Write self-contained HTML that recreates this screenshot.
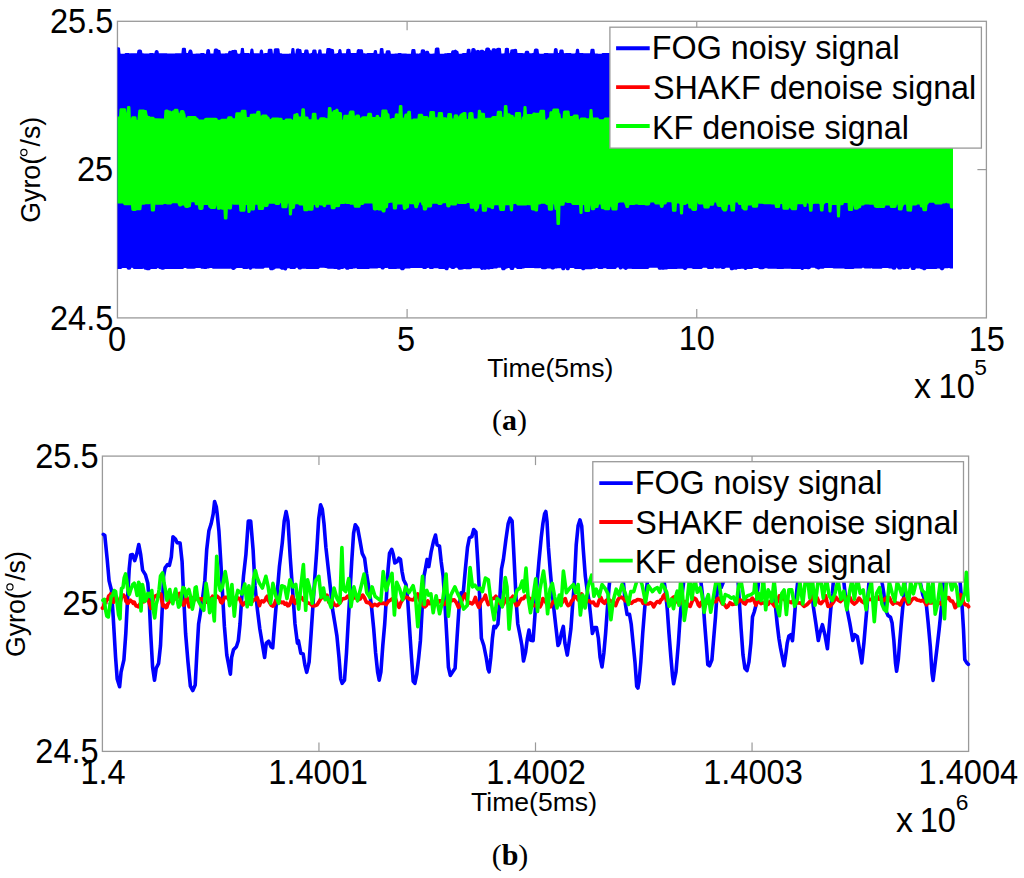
<!DOCTYPE html>
<html><head><meta charset="utf-8"><style>
html,body{margin:0;padding:0;background:#fff;width:1024px;height:878px;overflow:hidden}
svg{display:block}
</style></head><body>
<svg width="1024" height="878" viewBox="0 0 1024 878">
<rect width="1024" height="878" fill="#fff"/>
<rect x="117.45" y="21.30" width="868.95" height="296.60" fill="none" stroke="#9a9a9a" stroke-width="1.3"/>
<line x1="407.10" y1="317.90" x2="407.10" y2="308.90" stroke="#9a9a9a" stroke-width="1.2"/>
<line x1="407.10" y1="21.30" x2="407.10" y2="30.30" stroke="#9a9a9a" stroke-width="1.2"/>
<line x1="696.75" y1="317.90" x2="696.75" y2="308.90" stroke="#9a9a9a" stroke-width="1.2"/>
<line x1="696.75" y1="21.30" x2="696.75" y2="30.30" stroke="#9a9a9a" stroke-width="1.2"/>
<line x1="117.45" y1="169.60" x2="126.45" y2="169.60" stroke="#9a9a9a" stroke-width="1.2"/>
<line x1="986.40" y1="169.60" x2="977.40" y2="169.60" stroke="#9a9a9a" stroke-width="1.2"/>
<path d="M117.5,47.3 L118.5,47.3 L119.0,47.4 L119.5,47.6 L120.0,48.1 L120.5,53.6 L121.0,53.8 L124.0,53.8 L124.5,53.7 L125.0,53.2 L125.5,52.9 L126.0,52.9 L128.4,52.9 L128.9,52.9 L129.4,53.2 L129.9,53.5 L130.4,53.2 L130.9,53.2 L136.9,53.2 L137.4,50.4 L137.9,49.9 L138.4,49.7 L138.9,49.6 L140.4,49.6 L140.9,49.7 L141.4,49.9 L141.9,50.4 L142.4,53.3 L143.4,53.3 L143.9,53.4 L144.4,53.5 L148.9,53.5 L149.4,53.3 L149.9,53.1 L150.4,53.0 L152.4,53.0 L152.9,53.1 L153.4,53.3 L154.4,53.3 L154.9,50.9 L155.4,50.4 L155.9,50.2 L156.4,50.1 L156.9,50.1 L157.4,50.2 L157.9,50.4 L158.4,50.9 L158.9,53.3 L166.4,53.3 L166.9,53.3 L167.4,53.6 L174.4,53.6 L174.9,53.4 L175.4,53.3 L180.4,53.3 L180.9,53.2 L181.4,53.2 L181.9,48.5 L182.4,48.0 L182.9,47.8 L183.4,47.7 L184.4,47.7 L184.9,47.8 L185.4,48.0 L185.9,48.5 L186.4,53.0 L187.9,53.0 L188.4,51.2 L188.9,50.2 L189.4,49.7 L189.9,49.5 L190.4,49.4 L190.9,49.5 L191.4,49.7 L191.9,50.2 L192.4,51.2 L192.9,53.7 L195.4,53.7 L195.9,53.6 L196.4,53.5 L199.9,53.5 L200.4,53.2 L200.9,53.0 L201.4,52.9 L203.4,52.9 L203.9,53.0 L204.4,53.2 L204.9,53.7 L205.9,53.7 L206.4,49.9 L206.9,49.4 L207.4,49.2 L207.9,49.1 L208.4,49.1 L208.9,49.2 L209.4,49.4 L209.9,49.9 L210.4,53.6 L213.4,53.6 L213.9,49.4 L214.4,48.9 L214.9,48.6 L215.4,48.6 L215.9,48.5 L216.4,48.4 L216.9,48.5 L217.4,48.7 L217.9,49.2 L218.4,49.8 L218.9,49.8 L219.4,49.9 L219.9,50.1 L220.4,50.6 L220.9,53.6 L224.4,53.6 L224.9,53.4 L225.4,53.3 L227.9,53.3 L228.4,51.5 L228.9,51.0 L229.4,50.8 L229.9,50.7 L230.4,50.8 L230.9,50.9 L231.4,50.4 L231.9,50.2 L232.4,50.1 L233.4,50.1 L233.9,49.9 L234.4,49.8 L235.4,49.8 L235.9,49.9 L236.4,50.1 L236.9,50.6 L237.4,53.2 L237.9,53.4 L238.4,53.8 L239.4,53.8 L239.9,53.6 L240.4,53.1 L240.9,48.6 L241.4,48.1 L241.9,47.9 L242.4,47.8 L242.9,47.9 L243.4,48.1 L243.9,48.6 L244.4,52.9 L244.9,53.1 L248.9,53.1 L249.4,53.2 L249.9,53.4 L250.4,49.4 L250.9,48.9 L251.4,48.6 L251.9,48.6 L252.4,48.6 L252.9,48.9 L253.4,49.4 L253.9,53.2 L258.4,53.2 L258.9,53.3 L259.4,53.5 L259.9,50.4 L260.4,49.9 L260.9,49.6 L261.4,49.6 L261.9,49.6 L262.4,49.9 L262.9,50.4 L263.4,53.6 L263.9,53.6 L264.4,53.3 L264.9,53.0 L265.4,53.0 L266.9,53.0 L267.4,53.0 L267.9,49.6 L268.4,49.1 L268.9,48.8 L269.4,48.8 L270.9,48.8 L271.4,48.8 L271.9,49.1 L272.4,49.6 L272.9,53.6 L273.4,53.6 L273.9,49.1 L274.4,48.6 L274.9,48.4 L275.4,48.3 L275.9,48.3 L276.4,48.2 L277.9,48.2 L278.4,48.3 L278.9,48.5 L279.4,49.0 L279.9,53.2 L280.9,53.2 L281.4,53.3 L281.9,53.5 L282.4,53.8 L288.4,53.8 L288.9,53.7 L289.4,53.6 L290.9,53.6 L291.4,48.7 L291.9,48.2 L292.4,47.9 L292.9,47.9 L293.4,47.9 L293.9,48.2 L294.4,48.7 L294.9,53.6 L295.4,53.6 L295.9,49.4 L296.4,48.9 L296.9,48.6 L297.4,48.5 L298.4,48.5 L298.9,48.6 L299.4,48.9 L299.9,48.9 L300.4,49.0 L300.9,49.2 L301.4,49.7 L301.9,53.1 L302.4,53.1 L302.9,53.0 L303.4,52.9 L303.9,52.9 L304.4,50.3 L304.9,49.8 L305.4,49.6 L305.9,49.5 L306.9,49.5 L307.4,49.6 L307.9,49.8 L308.4,50.3 L308.9,53.3 L309.4,53.5 L310.4,53.5 L310.9,53.1 L311.4,52.9 L311.9,52.8 L312.4,50.3 L312.9,49.8 L313.4,49.6 L313.9,49.5 L314.9,49.5 L315.4,49.6 L315.9,49.8 L316.4,50.3 L316.9,53.5 L317.9,53.5 L318.4,50.1 L318.9,49.6 L319.4,49.4 L319.9,49.3 L320.4,49.4 L320.9,49.6 L321.4,50.1 L321.9,53.5 L325.9,53.5 L326.4,48.7 L326.9,48.2 L327.4,48.0 L327.9,47.9 L329.4,47.9 L329.9,48.0 L330.4,48.2 L330.9,48.7 L331.4,48.7 L331.9,48.8 L332.4,49.0 L332.9,49.0 L333.4,49.3 L333.9,49.8 L334.4,53.8 L334.9,53.7 L335.4,53.5 L335.9,53.4 L336.4,53.4 L336.9,53.3 L337.4,53.0 L337.9,53.0 L338.4,49.9 L338.9,49.4 L339.4,49.1 L339.9,49.1 L340.4,49.1 L340.9,49.4 L341.4,49.9 L341.9,53.3 L345.9,53.3 L346.4,49.6 L346.9,49.1 L347.4,48.9 L347.9,48.8 L348.9,48.8 L349.4,48.9 L349.9,49.1 L350.4,49.6 L350.9,53.1 L353.9,53.1 L354.4,52.9 L354.9,52.9 L356.4,52.9 L356.9,49.9 L357.4,49.4 L357.9,49.2 L358.4,49.1 L358.9,49.1 L359.4,49.2 L359.9,49.3 L361.4,49.3 L361.9,49.3 L362.4,49.6 L362.9,50.1 L363.4,53.2 L364.4,53.2 L364.9,53.2 L365.4,53.4 L366.4,53.4 L366.9,53.2 L367.4,53.0 L367.9,52.9 L373.4,52.9 L373.9,50.8 L374.4,50.3 L374.9,50.0 L375.4,50.0 L375.9,50.0 L376.4,50.3 L376.9,50.8 L377.4,53.8 L379.4,53.8 L379.9,48.7 L380.4,48.2 L380.9,48.0 L381.4,47.9 L381.9,47.9 L382.4,48.0 L382.9,48.2 L383.4,48.7 L383.9,53.6 L385.4,53.6 L385.9,51.1 L386.4,50.6 L386.9,50.3 L387.4,50.3 L388.9,50.3 L389.4,50.3 L389.9,50.6 L390.4,51.1 L390.9,53.7 L394.4,53.7 L394.9,53.5 L395.4,53.4 L397.4,53.4 L397.9,53.2 L398.4,53.0 L398.9,52.9 L400.4,52.9 L400.9,53.0 L401.4,53.2 L401.9,53.6 L406.4,53.6 L406.9,53.7 L410.9,53.7 L411.4,49.7 L411.9,49.2 L412.4,49.0 L412.9,48.9 L413.9,48.9 L414.4,49.0 L414.9,49.2 L415.4,49.7 L415.9,53.6 L417.4,53.6 L417.9,53.6 L418.4,53.7 L418.9,53.5 L419.4,53.2 L419.9,53.2 L420.4,53.2 L420.9,50.1 L421.4,49.6 L421.9,49.4 L422.4,49.3 L423.4,49.3 L423.9,49.4 L424.4,49.6 L424.9,50.1 L425.4,51.5 L425.9,51.0 L426.4,50.8 L426.9,50.7 L427.4,50.7 L427.9,50.8 L428.4,51.0 L428.9,51.5 L429.4,53.2 L429.9,53.5 L430.4,53.7 L432.4,53.7 L432.9,53.5 L433.4,53.4 L434.4,53.4 L434.9,48.6 L435.4,48.1 L435.9,47.8 L436.4,47.6 L436.9,47.5 L437.9,47.5 L438.4,47.6 L438.9,47.8 L439.4,48.4 L439.9,53.7 L443.9,53.7 L444.4,53.5 L444.9,53.3 L445.4,53.2 L446.9,53.2 L447.4,53.0 L447.9,52.9 L450.9,52.9 L451.4,51.1 L451.9,50.6 L452.4,50.3 L452.9,50.3 L453.9,50.3 L454.4,49.9 L454.9,49.7 L455.4,49.6 L455.9,49.7 L456.4,49.9 L456.9,50.4 L457.4,50.8 L457.9,51.0 L458.4,51.5 L458.9,53.7 L461.4,53.7 L461.9,53.4 L462.4,53.2 L462.9,53.1 L466.4,53.1 L466.9,49.5 L467.4,49.0 L467.9,48.8 L468.4,48.7 L468.9,48.7 L469.4,48.8 L469.9,49.0 L470.4,49.5 L470.9,53.3 L471.4,48.9 L471.9,48.4 L472.4,48.2 L472.9,48.1 L473.9,48.1 L474.4,48.2 L474.9,48.4 L475.4,48.9 L475.9,50.5 L476.4,50.5 L476.9,50.1 L477.4,49.9 L477.9,49.8 L478.4,49.9 L478.9,50.1 L479.4,50.6 L479.9,50.5 L480.4,50.0 L480.9,49.8 L481.4,49.7 L482.4,49.7 L482.9,49.8 L483.4,50.0 L483.9,50.5 L484.4,51.1 L484.9,50.8 L485.4,48.4 L485.9,47.9 L486.4,47.7 L486.9,47.6 L488.4,47.6 L488.9,47.7 L489.4,47.9 L489.9,48.4 L490.4,50.1 L490.9,50.3 L491.4,50.8 L491.9,49.0 L492.4,48.5 L492.9,48.2 L493.4,48.2 L494.4,48.2 L494.9,48.2 L495.4,48.5 L495.9,49.0 L496.4,48.6 L496.9,48.1 L497.4,47.9 L497.9,47.8 L499.4,47.8 L499.9,47.9 L500.4,48.1 L500.9,48.6 L501.4,53.5 L503.4,53.5 L503.9,53.3 L504.4,53.2 L504.9,48.6 L505.4,48.1 L505.9,47.9 L506.4,47.8 L507.4,47.8 L507.9,47.9 L508.4,48.1 L508.9,48.6 L509.4,53.2 L509.9,53.2 L510.4,50.1 L510.9,49.6 L511.4,49.4 L511.9,49.3 L513.5,49.3 L514.0,49.1 L514.5,48.9 L515.0,48.8 L515.5,48.8 L516.0,48.9 L516.5,49.1 L517.0,49.6 L517.5,53.1 L518.0,53.1 L518.5,53.0 L522.0,53.0 L522.5,53.1 L523.0,53.2 L524.5,53.2 L525.0,51.5 L525.5,51.0 L526.0,50.7 L526.5,50.7 L527.5,50.7 L528.0,50.7 L528.5,51.0 L529.0,51.5 L529.5,53.3 L532.0,53.3 L532.5,53.1 L533.0,52.9 L533.5,52.8 L534.0,49.4 L534.5,48.9 L535.0,48.7 L535.5,48.6 L537.0,48.6 L537.5,48.7 L538.0,48.9 L538.5,49.4 L539.0,53.5 L539.5,53.5 L540.0,53.8 L543.5,53.8 L544.0,53.3 L544.5,53.1 L545.0,53.0 L547.5,53.0 L548.0,53.1 L548.5,53.2 L553.5,53.2 L554.0,48.9 L554.5,48.4 L555.0,48.2 L555.5,48.1 L556.0,48.1 L556.5,48.2 L557.0,48.4 L557.5,48.9 L558.0,53.0 L559.0,53.0 L559.5,50.2 L560.0,49.7 L560.5,49.4 L561.0,49.4 L562.0,49.4 L562.5,49.4 L563.0,49.7 L563.5,50.2 L564.0,53.2 L566.5,53.1 L567.0,53.1 L570.5,53.1 L571.0,53.1 L571.5,53.4 L572.0,53.6 L574.0,53.6 L574.5,53.4 L575.0,53.2 L575.5,53.1 L576.0,49.5 L576.5,49.0 L577.0,48.8 L577.5,48.7 L578.0,48.8 L578.5,49.0 L579.0,49.5 L579.5,53.1 L583.0,53.1 L583.5,53.2 L584.0,53.2 L590.0,53.2 L590.5,49.6 L591.0,49.1 L591.5,48.8 L592.0,48.8 L593.0,48.8 L593.5,48.8 L594.0,49.1 L594.5,49.6 L595.0,53.4 L597.0,53.4 L597.5,53.4 L598.0,53.7 L598.5,53.7 L601.5,53.7 L602.0,53.3 L602.5,53.1 L603.0,53.0 L614.5,53.0 L615.0,52.9 L615.5,51.3 L616.0,49.3 L616.5,48.8 L617.0,48.6 L617.5,48.5 L619.0,48.5 L619.5,48.6 L620.0,48.8 L620.5,49.3 L621.0,52.9 L622.0,52.9 L622.5,53.0 L623.0,53.2 L623.5,53.7 L625.5,53.7 L626.0,53.6 L626.5,53.4 L627.0,53.3 L631.5,53.3 L632.0,53.3 L632.5,53.0 L633.0,52.9 L635.0,52.9 L635.5,49.6 L636.0,49.1 L636.5,48.8 L637.0,48.8 L638.0,48.8 L638.5,48.8 L639.0,49.1 L639.5,49.6 L640.0,49.8 L640.5,48.5 L641.0,48.0 L641.5,47.8 L642.0,47.7 L643.0,47.7 L643.5,47.8 L644.0,48.0 L644.5,48.5 L645.0,50.7 L645.5,51.0 L646.0,51.5 L646.5,53.7 L648.0,53.7 L648.5,53.2 L649.0,53.0 L649.5,52.9 L653.0,52.9 L653.5,51.0 L654.0,50.5 L654.5,50.3 L655.0,50.2 L655.5,50.3 L656.0,50.5 L656.5,51.0 L657.0,53.6 L657.5,53.4 L658.0,48.4 L658.5,47.9 L659.0,47.7 L659.5,47.6 L661.0,47.6 L661.5,47.7 L662.0,47.9 L662.5,48.4 L663.0,53.8 L667.0,53.8 L667.5,53.6 L668.0,53.3 L668.5,53.3 L676.0,53.3 L676.5,48.3 L677.0,47.8 L677.5,47.6 L678.0,47.5 L679.0,47.5 L679.5,47.6 L680.0,47.8 L680.5,48.1 L681.0,48.0 L681.5,48.1 L682.0,48.3 L682.5,48.8 L683.0,53.4 L683.5,53.5 L686.0,53.5 L686.5,50.0 L687.0,49.5 L687.5,49.2 L688.0,49.1 L688.5,49.2 L689.0,49.5 L689.5,50.0 L690.0,50.2 L690.5,50.7 L691.0,48.4 L691.5,47.9 L692.0,47.7 L692.5,47.6 L693.5,47.6 L694.0,47.7 L694.5,47.9 L695.0,48.4 L695.5,53.4 L697.5,53.4 L698.0,53.1 L698.5,53.1 L702.5,53.1 L703.0,53.1 L703.5,53.4 L704.0,53.7 L705.5,53.7 L706.0,49.5 L706.5,49.0 L707.0,48.8 L707.5,48.7 L709.0,48.7 L709.5,48.8 L710.0,49.0 L710.5,49.5 L711.0,53.5 L711.5,53.4 L714.0,53.4 L714.5,53.5 L715.0,53.7 L719.0,53.7 L719.5,53.7 L720.0,53.6 L720.5,53.6 L721.0,53.4 L721.5,53.1 L722.0,53.1 L726.0,53.1 L726.5,51.3 L727.0,50.8 L727.5,50.6 L728.0,50.5 L728.5,50.5 L729.0,50.4 L729.5,50.2 L730.0,50.1 L731.0,50.1 L731.5,50.2 L732.0,50.4 L732.5,50.9 L733.0,53.3 L733.5,53.2 L734.0,53.0 L734.5,52.9 L743.5,52.9 L744.0,51.6 L744.5,51.1 L745.0,50.8 L745.5,50.8 L746.0,50.8 L746.5,50.8 L747.0,51.1 L747.5,51.6 L748.0,53.4 L757.0,53.4 L757.5,51.4 L758.0,50.9 L758.5,50.6 L759.0,50.6 L759.5,50.5 L760.0,50.0 L760.5,49.7 L761.0,49.7 L761.5,49.7 L762.0,50.0 L762.5,50.5 L763.0,53.2 L765.0,53.2 L765.5,53.1 L767.0,53.1 L767.5,53.0 L768.0,52.9 L771.0,52.9 L771.5,50.1 L772.0,49.6 L772.5,49.4 L773.0,49.3 L773.5,49.4 L774.0,49.6 L774.5,50.1 L775.0,50.7 L775.5,50.5 L776.0,50.4 L777.0,50.4 L777.5,50.1 L778.0,50.1 L778.5,50.1 L779.0,50.1 L779.5,50.1 L780.0,50.2 L780.5,50.4 L781.0,50.9 L781.5,49.5 L782.0,49.0 L782.5,48.7 L783.0,48.7 L783.5,48.7 L784.0,48.7 L784.5,49.0 L785.0,49.5 L785.5,52.9 L786.5,52.9 L787.0,51.3 L787.5,50.8 L788.0,50.6 L788.5,50.5 L789.0,50.6 L789.5,50.8 L790.0,51.3 L790.5,50.0 L791.0,49.5 L791.5,49.3 L792.0,49.2 L792.5,49.3 L793.0,49.5 L793.5,49.7 L794.0,49.4 L794.5,49.4 L795.0,49.2 L795.5,49.0 L796.0,48.9 L797.0,48.9 L797.5,49.0 L798.0,49.2 L798.5,49.7 L799.0,50.7 L799.5,50.5 L800.0,50.4 L801.5,50.4 L802.0,50.5 L802.5,50.7 L803.0,51.2 L803.5,49.7 L804.0,49.2 L804.5,49.0 L805.0,48.9 L806.0,48.9 L806.5,49.0 L807.0,49.2 L807.5,49.7 L808.0,53.5 L809.0,53.5 L809.5,49.3 L810.0,48.8 L810.5,48.6 L811.0,48.5 L812.0,48.5 L812.5,48.6 L813.0,48.8 L813.5,49.3 L814.0,53.3 L815.5,53.3 L816.0,50.6 L816.5,50.1 L817.0,49.9 L817.5,49.8 L818.0,49.8 L818.5,49.9 L819.0,50.1 L819.5,50.6 L820.0,50.8 L820.5,51.1 L821.0,51.6 L821.5,52.8 L824.5,52.8 L825.0,52.9 L825.5,53.1 L826.0,53.3 L826.5,53.3 L827.0,53.2 L827.5,52.9 L828.0,52.9 L828.5,49.1 L829.0,48.6 L829.5,48.4 L830.0,48.3 L831.0,48.3 L831.5,48.4 L832.0,48.6 L832.5,49.1 L833.0,53.5 L835.0,53.5 L835.5,53.3 L836.0,53.2 L836.5,51.0 L837.0,50.5 L837.5,50.3 L838.0,50.2 L838.5,50.2 L839.0,50.3 L839.5,50.5 L840.0,51.0 L840.5,53.7 L842.5,53.7 L843.0,53.5 L843.5,53.4 L844.5,53.4 L845.0,53.4 L845.5,53.3 L850.0,53.3 L850.5,53.2 L851.0,53.0 L851.5,49.0 L852.0,48.5 L852.5,48.3 L853.0,48.2 L854.0,48.2 L854.5,48.3 L855.0,48.5 L855.5,49.0 L856.0,52.9 L859.0,52.9 L859.5,53.0 L862.5,53.0 L863.0,49.3 L863.5,48.8 L864.0,48.6 L864.5,48.5 L865.0,48.5 L865.5,48.6 L866.0,48.8 L866.5,49.3 L867.0,50.7 L867.5,51.2 L868.0,53.1 L868.5,53.3 L872.0,53.3 L872.5,50.5 L873.0,50.0 L873.5,49.7 L874.0,49.7 L875.0,49.7 L875.5,49.7 L876.0,50.0 L876.5,50.0 L877.0,49.5 L877.5,49.3 L878.0,49.2 L879.0,49.2 L879.5,49.3 L880.0,49.5 L880.5,49.9 L881.0,50.2 L881.5,50.7 L882.0,53.4 L882.5,53.2 L883.0,53.1 L887.5,53.1 L888.0,53.2 L888.5,53.4 L889.0,50.4 L889.5,49.9 L890.0,49.6 L890.5,49.6 L892.0,49.6 L892.5,49.6 L893.0,49.9 L893.5,50.4 L894.0,53.6 L894.5,53.6 L895.0,50.9 L895.5,50.4 L896.0,50.1 L896.5,49.9 L897.0,49.8 L898.0,49.8 L898.5,49.9 L899.0,50.1 L899.5,50.6 L900.0,53.2 L900.5,53.2 L901.0,53.0 L901.5,52.9 L906.5,52.9 L907.0,53.0 L911.0,53.0 L911.5,53.1 L912.0,53.3 L912.5,53.8 L913.0,53.6 L913.5,53.6 L919.0,53.6 L919.5,53.6 L920.5,53.7 L921.0,53.5 L921.5,53.5 L924.5,53.5 L925.0,53.2 L925.5,53.0 L926.0,52.9 L931.0,52.9 L931.5,53.0 L932.0,53.2 L932.5,53.6 L935.5,53.6 L936.0,53.7 L936.5,49.2 L937.0,48.7 L937.5,48.5 L938.0,48.4 L938.5,48.4 L939.0,48.5 L939.5,48.7 L940.0,49.2 L940.5,53.8 L941.0,53.8 L941.5,53.6 L942.0,53.5 L943.5,53.5 L944.0,48.7 L944.5,48.2 L945.0,48.0 L945.5,47.9 L946.0,48.0 L946.5,48.2 L947.0,48.7 L947.5,51.4 L948.0,50.9 L948.5,50.7 L949.0,50.6 L949.5,50.7 L950.0,50.9 L950.5,51.4 L951.0,53.2 L953.0,53.2 L953.0,268.4 L950.5,268.4 L950.0,268.4 L949.5,268.1 L949.0,268.0 L948.5,268.0 L948.0,268.2 L947.5,268.2 L944.5,268.2 L944.0,269.2 L943.5,269.7 L943.0,270.1 L942.5,270.3 L942.0,270.4 L941.5,270.3 L941.0,270.1 L940.5,269.7 L940.0,269.2 L939.5,268.5 L937.5,268.5 L937.0,268.7 L936.5,268.9 L936.0,269.0 L934.0,269.0 L933.5,269.0 L926.5,269.0 L926.0,269.5 L925.5,270.0 L925.0,270.3 L924.5,270.3 L924.0,270.3 L923.5,270.3 L923.0,270.0 L922.5,269.5 L922.0,269.2 L921.5,269.2 L921.0,269.1 L920.5,268.9 L920.0,268.6 L917.0,268.6 L916.5,268.5 L916.0,268.3 L915.5,269.2 L915.0,269.7 L914.5,270.0 L914.0,270.0 L912.5,270.0 L912.0,270.0 L911.5,269.7 L911.0,269.2 L910.5,267.6 L910.0,267.6 L909.5,268.3 L909.0,268.8 L908.5,269.0 L908.0,269.1 L904.0,269.1 L903.5,269.0 L903.0,268.8 L902.5,268.7 L902.0,268.8 L901.5,269.3 L901.0,269.6 L900.5,269.6 L899.0,269.6 L898.5,269.6 L898.0,269.3 L897.5,268.8 L897.0,267.7 L896.5,267.7 L896.0,268.9 L895.5,269.4 L895.0,269.6 L894.5,269.7 L893.5,269.7 L893.0,269.6 L892.5,269.4 L892.0,268.9 L891.5,268.5 L889.5,268.5 L889.0,268.5 L888.5,268.2 L888.0,268.1 L882.5,268.1 L882.0,268.5 L881.5,268.7 L881.0,268.8 L873.0,268.8 L872.5,268.7 L872.0,268.5 L871.5,268.1 L871.0,268.4 L870.5,268.4 L865.0,268.4 L864.5,268.4 L864.0,268.1 L863.5,267.7 L863.0,267.7 L862.5,267.7 L862.0,268.2 L861.5,268.5 L861.0,268.5 L854.5,268.5 L854.0,268.7 L853.5,269.0 L853.0,269.0 L845.5,269.0 L845.0,269.0 L844.5,268.7 L844.0,268.5 L839.0,268.5 L838.5,268.5 L838.0,268.6 L834.0,268.6 L833.5,268.5 L833.0,268.3 L832.5,267.9 L829.0,267.9 L828.5,268.0 L828.0,268.1 L824.5,268.1 L824.0,268.4 L823.5,268.7 L823.0,268.7 L820.5,268.7 L820.0,268.8 L819.5,269.3 L819.0,269.6 L818.5,269.6 L818.0,269.6 L817.5,269.3 L817.0,268.8 L816.5,268.7 L816.0,268.7 L815.5,268.4 L815.0,267.9 L814.5,267.7 L811.0,267.7 L810.5,268.4 L810.0,268.9 L809.5,269.1 L809.0,269.2 L807.5,269.2 L807.0,269.1 L806.5,268.9 L804.5,268.9 L804.0,269.1 L803.5,269.6 L803.0,269.9 L802.5,269.9 L802.0,269.9 L801.5,269.9 L801.0,269.6 L800.5,269.1 L800.0,268.9 L799.5,268.9 L791.5,268.9 L791.0,268.8 L790.5,268.7 L784.5,268.7 L784.0,268.8 L783.5,268.9 L777.0,268.9 L776.5,268.8 L776.0,268.8 L768.5,268.8 L768.0,268.7 L767.5,268.5 L767.0,268.3 L765.0,268.3 L764.5,268.4 L764.0,268.9 L763.5,269.1 L763.0,269.2 L760.0,269.2 L759.5,269.1 L759.0,268.9 L758.5,268.4 L758.0,268.1 L753.5,268.1 L753.0,268.6 L752.5,268.8 L752.0,268.9 L747.5,268.9 L747.0,269.2 L746.5,269.7 L746.0,269.9 L745.5,270.0 L745.0,269.9 L744.5,269.7 L744.0,269.2 L743.5,268.7 L741.0,268.7 L740.5,268.9 L740.0,269.0 L738.5,269.0 L738.0,268.9 L737.5,268.9 L737.0,269.4 L736.5,269.7 L736.0,269.8 L735.5,269.7 L735.0,269.4 L734.5,269.5 L734.0,269.7 L733.5,269.8 L733.0,270.0 L732.5,270.3 L732.0,270.3 L731.5,270.3 L731.0,270.3 L730.5,270.0 L730.0,269.5 L729.5,267.8 L726.0,267.8 L725.5,268.1 L725.0,268.6 L724.5,268.8 L724.0,268.9 L722.0,268.9 L721.5,268.8 L721.0,268.6 L720.5,268.1 L720.0,268.2 L719.5,268.4 L719.0,268.5 L716.5,268.5 L716.0,268.4 L715.5,268.2 L715.0,267.7 L714.5,267.6 L714.0,268.3 L713.5,268.8 L713.0,269.0 L712.5,269.1 L708.5,269.1 L708.0,269.0 L707.5,268.8 L707.0,268.3 L706.5,267.7 L703.0,267.7 L702.5,268.2 L702.0,268.7 L701.5,268.9 L701.0,269.0 L698.0,269.0 L697.5,268.9 L697.0,268.9 L693.0,268.9 L692.5,268.8 L692.0,268.6 L691.5,268.3 L687.5,268.3 L687.0,269.1 L686.5,269.6 L686.0,269.8 L685.5,269.9 L684.5,269.9 L684.0,269.8 L683.5,269.6 L683.0,269.1 L682.5,268.8 L677.5,268.8 L677.0,269.0 L676.5,269.0 L669.0,269.0 L668.5,269.0 L668.0,268.9 L667.5,269.3 L667.0,269.6 L666.5,269.6 L665.5,269.6 L665.0,269.6 L664.5,269.5 L664.0,269.7 L663.5,269.8 L662.5,269.8 L662.0,269.7 L661.5,269.5 L661.0,269.7 L660.5,269.7 L659.5,269.7 L659.0,269.7 L658.5,269.4 L658.0,268.9 L657.5,267.7 L655.0,267.7 L654.5,267.7 L654.0,267.8 L649.5,267.8 L649.0,268.2 L648.5,268.7 L648.0,268.9 L647.5,269.0 L640.0,269.0 L639.5,268.9 L639.0,268.9 L632.0,268.9 L631.5,268.8 L631.0,268.7 L628.0,268.7 L627.5,269.1 L627.0,269.6 L626.5,269.8 L626.0,269.9 L625.5,269.9 L625.0,269.8 L624.5,269.6 L624.0,269.1 L623.5,268.7 L623.0,268.6 L622.5,268.4 L622.0,268.7 L621.5,269.2 L621.0,269.5 L620.5,269.5 L620.0,269.5 L619.5,269.2 L619.0,268.7 L618.5,267.6 L617.0,267.6 L616.5,268.2 L616.0,268.7 L615.5,268.9 L615.0,269.0 L607.5,269.0 L607.0,268.9 L606.5,268.7 L606.0,268.3 L603.5,268.3 L603.0,268.8 L602.5,269.0 L602.0,269.1 L599.0,269.1 L598.5,269.0 L598.0,268.8 L597.5,268.3 L597.0,267.9 L596.5,267.9 L596.0,268.0 L595.5,268.5 L595.0,268.8 L594.5,268.8 L593.0,268.8 L592.5,268.9 L592.0,269.1 L591.5,269.2 L585.5,269.2 L585.0,269.5 L584.5,270.0 L584.0,270.2 L583.5,270.3 L583.0,270.3 L582.5,270.2 L582.0,270.0 L581.5,269.5 L581.0,269.1 L575.5,269.1 L575.0,269.1 L574.5,268.8 L574.0,268.3 L573.5,268.0 L570.0,268.0 L569.5,269.5 L569.0,270.0 L568.5,270.2 L568.0,270.3 L567.5,270.3 L567.0,270.2 L566.5,270.0 L566.0,269.5 L565.5,268.1 L565.0,269.4 L564.5,269.9 L564.0,270.2 L563.5,270.2 L563.0,270.2 L562.5,270.2 L562.0,269.9 L561.5,269.4 L561.0,268.2 L557.5,268.2 L557.0,268.5 L556.5,268.5 L555.5,268.5 L555.0,268.6 L554.5,269.1 L554.0,269.3 L553.5,269.4 L552.0,269.4 L551.5,269.3 L551.0,269.1 L550.5,268.6 L550.0,268.4 L547.0,268.4 L546.5,268.9 L546.0,269.1 L545.5,269.2 L542.5,269.2 L542.0,269.1 L541.5,268.9 L541.0,268.4 L540.5,268.1 L540.0,268.1 L539.5,268.2 L534.5,268.2 L534.0,268.1 L533.5,267.9 L530.5,267.9 L530.0,268.0 L525.0,268.0 L524.5,268.3 L524.0,268.6 L523.5,268.6 L522.5,268.6 L522.0,268.9 L521.5,268.9 L517.5,268.9 L517.0,268.9 L516.5,268.6 L516.0,268.1 L515.5,267.7 L514.5,267.7 L514.0,269.2 L513.5,269.7 L513.0,270.0 L512.5,270.1 L511.4,270.1 L510.9,270.0 L510.4,269.7 L509.9,269.2 L509.4,268.1 L507.9,268.1 L507.4,268.4 L506.9,268.6 L506.4,268.7 L505.9,268.7 L505.4,269.4 L504.9,269.9 L504.4,270.2 L503.9,270.2 L502.9,270.2 L502.4,270.2 L501.9,269.9 L501.4,269.4 L500.9,267.7 L497.9,267.7 L497.4,268.2 L496.9,268.4 L496.4,268.5 L493.9,268.5 L493.4,268.7 L492.9,268.9 L492.4,269.0 L490.4,269.0 L489.9,269.3 L489.4,269.6 L488.9,269.6 L488.4,269.6 L487.9,269.6 L487.4,269.3 L486.9,268.9 L486.4,269.4 L485.9,269.7 L485.4,269.7 L484.4,269.7 L483.9,269.7 L483.4,269.4 L482.9,269.6 L482.4,269.9 L481.9,269.9 L481.4,269.9 L480.9,269.6 L480.4,269.1 L479.9,268.3 L473.4,268.3 L472.9,268.2 L472.4,268.1 L471.9,268.4 L471.4,268.9 L470.9,269.1 L470.4,269.2 L465.9,269.2 L465.4,269.1 L464.9,268.9 L463.9,268.9 L463.4,269.3 L462.9,269.5 L462.4,269.6 L461.9,269.6 L461.4,269.7 L460.9,269.8 L459.4,269.8 L458.9,269.7 L458.4,269.5 L457.9,269.0 L457.4,267.9 L456.9,267.8 L455.9,267.8 L455.4,268.1 L454.9,268.6 L454.4,268.8 L453.9,268.9 L451.9,268.9 L451.4,268.8 L450.9,268.6 L450.4,268.1 L449.9,267.7 L448.9,267.7 L448.4,269.4 L447.9,269.9 L447.4,270.2 L446.9,270.2 L446.4,270.2 L445.9,270.2 L445.4,269.9 L444.9,269.4 L444.4,269.0 L439.4,268.9 L438.9,268.9 L438.4,268.6 L437.9,268.2 L433.9,268.3 L433.4,268.8 L432.9,269.0 L432.4,269.1 L430.4,269.1 L429.9,269.0 L429.4,268.8 L428.9,268.3 L428.4,267.8 L427.9,267.9 L427.4,267.9 L426.9,268.3 L426.4,268.8 L425.9,269.0 L425.4,269.1 L423.9,269.1 L423.4,269.0 L422.9,268.8 L422.4,268.3 L421.9,267.9 L416.9,267.9 L416.4,268.0 L411.4,268.0 L410.9,268.1 L410.4,268.3 L409.9,268.4 L405.9,268.4 L405.4,268.6 L404.9,268.7 L404.4,269.5 L403.9,270.0 L403.4,270.3 L402.9,270.3 L401.9,270.3 L401.4,270.3 L400.9,270.0 L400.4,269.5 L399.9,268.7 L398.4,268.7 L397.9,268.8 L396.9,268.8 L396.4,269.0 L395.9,269.0 L389.4,269.0 L388.9,269.0 L388.4,268.7 L387.9,268.2 L387.4,267.8 L386.9,267.9 L384.9,267.9 L384.4,268.7 L383.9,269.2 L383.4,269.5 L382.9,269.5 L382.4,269.5 L381.9,269.5 L381.4,269.2 L380.9,268.7 L380.4,268.1 L378.4,268.1 L377.9,268.2 L377.4,268.4 L376.9,268.5 L370.4,268.5 L369.9,268.6 L369.4,268.8 L368.9,268.9 L364.9,268.9 L364.4,269.0 L363.9,269.0 L357.9,269.0 L357.4,269.0 L356.9,268.7 L356.4,268.2 L355.9,268.1 L355.4,268.4 L354.9,268.4 L353.4,268.4 L352.9,268.8 L352.4,269.0 L351.9,269.1 L349.4,269.1 L348.9,269.4 L348.4,269.7 L347.9,269.7 L346.9,269.7 L346.4,269.7 L345.9,269.4 L345.4,268.9 L344.9,268.3 L344.4,268.3 L343.9,268.5 L343.4,268.8 L342.9,268.9 L341.4,268.9 L340.9,268.9 L340.4,269.4 L339.9,269.7 L339.4,269.8 L338.4,269.8 L337.9,269.7 L337.4,269.4 L336.9,268.9 L334.4,269.0 L333.9,268.9 L333.4,268.7 L327.9,268.7 L327.4,268.6 L326.9,268.4 L326.4,267.9 L324.9,267.9 L324.4,267.8 L323.9,267.7 L319.9,267.7 L319.4,268.2 L318.9,268.7 L318.4,269.0 L317.9,269.0 L314.9,269.1 L314.4,269.1 L306.9,269.1 L306.4,269.1 L305.9,268.8 L302.4,268.8 L301.9,268.8 L301.4,269.2 L300.9,269.5 L300.4,269.5 L299.4,269.5 L298.9,269.5 L298.4,269.2 L297.9,268.7 L297.4,267.8 L296.4,267.8 L295.9,268.3 L295.4,268.8 L294.9,269.0 L294.4,269.1 L290.9,269.1 L290.4,269.0 L289.9,268.8 L289.4,268.3 L287.4,268.3 L286.9,269.7 L286.4,270.2 L285.9,270.5 L285.4,270.5 L284.9,270.5 L284.4,270.2 L283.9,269.7 L281.9,269.7 L281.4,269.7 L280.9,269.4 L280.4,268.9 L279.9,268.7 L279.4,268.6 L278.9,268.4 L275.9,268.4 L275.4,268.8 L274.9,269.3 L274.4,269.5 L273.9,269.6 L273.4,270.0 L272.9,270.2 L272.4,270.3 L270.9,270.3 L270.4,270.2 L269.9,270.0 L269.4,269.5 L268.9,267.7 L264.9,267.7 L264.4,268.0 L263.9,268.5 L263.4,268.7 L262.9,268.8 L255.9,268.8 L255.4,268.7 L254.9,268.5 L254.4,268.4 L252.4,268.4 L251.9,269.0 L251.4,269.5 L250.9,269.7 L250.4,269.8 L249.9,269.7 L249.4,269.5 L248.9,269.0 L248.4,268.4 L247.9,268.8 L247.4,269.0 L246.9,269.1 L243.9,269.1 L243.4,269.0 L242.9,268.8 L242.4,268.3 L241.9,268.1 L236.9,268.1 L236.4,268.2 L235.9,268.4 L235.4,269.1 L234.9,269.6 L234.4,269.8 L233.9,269.9 L232.9,269.9 L232.4,269.8 L231.9,269.6 L231.4,269.1 L230.9,268.5 L230.4,268.7 L229.9,268.7 L216.4,268.8 L215.9,268.8 L213.4,268.8 L212.9,268.8 L212.4,268.5 L211.9,268.1 L209.9,268.1 L209.4,268.3 L208.9,268.5 L208.4,268.6 L207.4,268.6 L206.9,268.8 L206.4,269.0 L205.9,269.1 L204.4,269.1 L203.9,269.0 L203.4,268.8 L201.9,268.8 L201.4,268.8 L200.9,268.5 L200.4,268.0 L199.9,267.9 L195.9,267.9 L195.4,268.4 L194.9,268.6 L194.4,268.7 L187.4,268.7 L186.9,268.6 L186.4,268.4 L185.9,268.0 L184.4,268.0 L183.9,268.2 L183.4,268.7 L182.9,268.9 L182.4,269.0 L176.4,269.0 L175.9,269.1 L174.4,269.1 L173.9,269.0 L166.4,269.0 L165.9,269.1 L164.9,269.1 L164.4,269.4 L163.9,269.6 L163.4,269.7 L161.9,269.7 L161.4,269.6 L160.9,269.4 L160.4,269.1 L159.9,269.1 L159.4,269.0 L158.9,268.8 L158.4,268.3 L157.9,267.9 L157.4,268.3 L156.9,268.8 L156.4,269.0 L155.9,269.1 L151.4,269.1 L150.9,269.0 L150.4,269.5 L149.9,270.0 L149.4,270.2 L148.9,270.3 L147.4,270.3 L146.9,270.2 L146.4,270.0 L145.9,269.8 L145.4,269.8 L144.9,269.8 L144.4,269.5 L143.9,269.0 L143.4,268.5 L142.9,268.7 L142.4,268.9 L141.9,269.0 L134.4,269.0 L133.9,268.9 L133.4,268.7 L132.9,268.2 L132.4,267.8 L131.4,267.8 L130.9,268.9 L130.4,269.4 L129.9,269.6 L129.4,269.7 L128.4,269.7 L128.0,269.6 L127.5,269.4 L127.0,268.9 L126.5,268.0 L124.0,268.0 L123.5,267.9 L122.5,267.9 L122.0,268.3 L121.5,268.8 L121.0,269.0 L120.5,269.1 L117.5,269.1 Z" fill="#0000ff"/>
<path d="M117.5,116.6 L119.0,116.6 L119.5,109.1 L120.0,108.6 L120.5,108.3 L121.0,108.3 L124.5,108.3 L125.0,108.3 L125.5,108.6 L126.0,109.1 L126.5,113.3 L127.0,106.8 L127.5,106.3 L128.0,106.1 L128.4,106.0 L128.9,106.0 L129.4,106.1 L129.9,106.3 L130.4,106.8 L130.9,119.0 L131.4,117.0 L131.9,116.5 L132.4,116.3 L132.9,116.2 L134.9,116.2 L135.4,116.3 L135.9,116.5 L136.4,117.0 L136.9,120.0 L137.4,120.0 L137.9,114.6 L138.4,110.3 L138.9,109.8 L139.4,109.6 L139.9,109.5 L143.4,109.5 L143.9,109.6 L144.4,109.8 L144.9,109.9 L145.4,109.9 L145.9,109.9 L146.4,110.2 L146.9,110.7 L147.4,114.1 L147.9,115.6 L148.4,116.1 L148.9,116.1 L149.4,116.1 L149.9,116.4 L150.4,116.7 L152.9,116.7 L153.4,116.8 L153.9,117.0 L154.4,117.6 L154.9,118.2 L155.4,118.2 L155.9,118.3 L162.9,118.4 L163.4,118.4 L163.9,118.7 L164.4,110.4 L164.9,109.9 L165.4,109.7 L165.9,109.6 L167.4,109.6 L167.9,109.7 L168.4,109.9 L168.9,110.4 L169.4,110.6 L169.9,110.6 L170.4,110.6 L170.9,110.9 L171.4,111.4 L171.9,110.9 L172.4,110.6 L172.9,110.6 L173.4,110.6 L173.9,109.5 L174.4,109.0 L174.9,108.8 L175.4,108.7 L176.9,108.7 L177.4,108.8 L177.9,109.0 L178.4,109.5 L178.9,113.1 L179.4,113.3 L179.9,110.9 L180.4,110.4 L180.9,110.2 L181.4,110.1 L182.9,110.1 L183.4,110.2 L183.9,110.4 L184.4,110.9 L184.9,113.2 L185.4,113.7 L185.9,117.8 L186.4,117.8 L186.9,116.8 L187.4,116.3 L187.9,116.1 L188.4,116.0 L194.9,116.0 L195.4,116.1 L195.9,116.3 L196.4,116.8 L196.9,117.6 L197.4,117.7 L197.9,117.9 L198.4,118.4 L198.9,119.5 L203.9,119.5 L204.4,118.6 L204.9,118.1 L205.4,117.9 L205.9,117.8 L215.9,117.8 L216.4,117.9 L216.9,118.1 L217.4,118.6 L217.9,119.8 L219.9,119.8 L220.4,119.5 L220.9,119.0 L221.4,118.8 L221.9,118.7 L226.9,118.7 L227.4,117.0 L227.9,116.5 L228.4,116.2 L228.9,116.2 L230.9,116.2 L231.4,116.2 L231.9,116.5 L232.4,117.0 L232.9,118.2 L234.9,118.2 L235.4,113.0 L235.9,112.5 L236.4,112.2 L236.9,112.2 L239.4,112.2 L239.9,112.2 L240.4,112.5 L240.9,110.5 L241.4,110.0 L241.9,109.8 L242.4,109.7 L244.9,109.7 L245.4,109.8 L245.9,110.0 L246.4,110.5 L246.9,117.1 L247.4,117.0 L249.4,117.0 L249.9,114.5 L250.4,114.0 L250.9,113.7 L251.4,113.7 L252.4,113.7 L252.9,113.7 L253.4,113.6 L253.9,113.5 L254.9,113.5 L255.4,113.6 L255.9,113.8 L256.4,111.5 L256.9,111.0 L257.4,110.7 L257.9,110.7 L258.9,110.7 L259.4,110.7 L259.9,111.0 L260.4,111.5 L260.9,116.5 L261.4,115.2 L261.9,114.7 L262.4,114.4 L262.9,114.4 L265.9,114.4 L266.4,114.4 L266.9,114.7 L267.4,115.2 L267.9,116.5 L268.4,116.6 L268.9,116.8 L269.4,117.3 L269.9,118.9 L270.9,118.9 L271.4,118.2 L271.9,117.7 L272.4,117.5 L272.9,117.4 L277.9,117.4 L278.4,117.5 L278.9,117.7 L279.4,117.8 L280.9,117.8 L281.4,117.8 L281.9,118.1 L282.4,118.6 L282.9,120.0 L284.4,120.0 L284.9,119.2 L285.4,118.7 L285.9,118.5 L286.4,118.4 L290.4,118.4 L290.9,118.5 L291.4,118.7 L291.9,119.2 L292.4,119.8 L292.9,119.8 L293.4,114.6 L293.9,114.1 L294.4,113.8 L294.9,113.8 L295.4,113.8 L295.9,113.3 L296.4,113.1 L296.9,113.0 L297.4,113.1 L297.9,113.3 L298.4,113.8 L298.9,116.4 L299.4,116.4 L300.9,116.4 L301.4,109.0 L301.9,108.5 L302.4,108.3 L302.9,108.2 L303.4,108.2 L303.9,108.3 L304.4,108.5 L304.9,109.0 L305.4,116.4 L306.9,116.4 L307.4,116.4 L307.9,116.7 L308.4,117.2 L308.9,119.3 L311.4,119.3 L311.9,113.6 L312.4,113.1 L312.9,112.8 L313.4,112.8 L314.9,112.8 L315.4,112.8 L315.9,113.1 L316.4,113.6 L316.9,119.4 L318.9,119.4 L319.4,118.1 L319.9,117.6 L320.4,117.4 L320.9,117.3 L324.4,117.3 L324.9,117.4 L325.4,117.6 L325.9,118.1 L327.4,118.2 L327.9,107.8 L328.4,107.3 L328.9,107.1 L329.4,107.0 L329.9,107.0 L330.4,107.1 L330.9,107.3 L331.4,107.8 L331.9,111.9 L332.4,111.7 L332.9,110.7 L333.4,110.2 L333.9,110.0 L334.4,109.9 L334.9,109.9 L335.4,109.4 L335.9,108.9 L336.4,108.7 L336.9,108.6 L337.4,108.7 L337.9,108.9 L338.4,109.4 L338.9,112.1 L340.4,112.1 L340.9,112.1 L341.4,112.4 L341.9,112.9 L342.4,119.7 L342.9,119.7 L343.4,115.5 L343.9,115.0 L344.4,114.8 L344.9,114.7 L347.9,114.7 L348.4,114.8 L348.9,111.7 L349.4,111.2 L349.9,110.8 L350.4,110.6 L350.9,110.5 L352.9,110.5 L353.4,110.6 L353.9,110.8 L354.4,111.3 L354.9,116.0 L355.4,115.4 L355.9,114.9 L356.4,114.6 L356.9,114.6 L358.4,114.6 L358.9,114.6 L359.4,114.9 L359.9,115.4 L360.4,118.0 L360.9,118.0 L361.4,117.1 L361.9,116.6 L362.4,116.4 L362.9,116.3 L366.9,116.3 L367.4,113.5 L367.9,113.0 L368.4,112.8 L368.9,112.7 L370.4,112.7 L370.9,112.8 L371.4,113.0 L371.9,113.5 L372.4,116.9 L372.9,116.9 L373.4,117.1 L375.4,117.1 L375.9,115.6 L376.4,115.1 L376.9,114.9 L377.4,114.8 L377.9,114.9 L378.4,115.1 L378.9,115.6 L379.4,117.1 L379.9,117.1 L380.4,117.3 L380.9,117.3 L381.4,110.2 L381.9,109.7 L382.4,109.5 L382.9,109.4 L385.9,109.4 L386.4,109.5 L386.9,109.7 L387.4,110.2 L387.9,113.2 L388.4,113.3 L388.9,113.5 L389.4,114.0 L389.9,118.8 L390.9,118.8 L391.4,118.4 L391.9,118.1 L392.4,118.1 L394.4,118.1 L394.9,114.1 L395.4,113.6 L395.9,113.4 L396.4,113.3 L396.9,113.3 L397.4,113.4 L397.9,113.6 L398.4,114.1 L398.9,105.8 L399.4,105.3 L399.9,105.1 L400.4,105.0 L400.9,105.0 L401.4,105.1 L401.9,105.3 L402.4,105.8 L402.9,118.1 L403.4,117.8 L403.9,117.3 L404.4,114.4 L404.9,113.9 L405.4,113.6 L405.9,113.6 L406.9,113.6 L407.4,111.5 L407.9,111.0 L408.4,110.8 L408.9,110.7 L409.4,110.7 L409.9,110.8 L410.4,111.0 L410.9,111.5 L411.4,119.3 L411.9,119.3 L412.4,119.2 L412.9,118.7 L413.4,118.5 L413.9,118.4 L417.4,118.4 L417.9,114.5 L418.4,114.0 L418.9,113.8 L419.4,113.7 L421.4,113.7 L421.9,113.8 L422.4,114.0 L422.9,114.5 L423.4,116.1 L426.9,116.1 L427.4,116.1 L427.9,116.4 L428.4,116.9 L428.9,117.9 L429.4,111.8 L429.9,111.3 L430.4,111.1 L430.9,111.0 L433.4,111.0 L433.9,111.1 L434.4,111.3 L434.9,111.8 L435.4,117.2 L437.4,117.2 L437.9,112.8 L438.4,112.3 L438.9,112.0 L439.4,112.0 L441.4,112.0 L441.9,112.0 L442.4,112.3 L442.9,112.8 L443.4,117.2 L445.4,117.2 L445.9,117.2 L446.4,117.5 L446.9,118.0 L447.4,113.8 L447.9,113.3 L448.4,113.1 L448.9,113.0 L450.4,113.0 L450.9,113.1 L451.4,113.3 L451.9,113.8 L452.4,118.6 L452.9,118.6 L453.4,118.6 L453.9,115.1 L454.4,114.6 L454.9,114.4 L455.4,114.3 L456.4,114.3 L456.9,114.4 L457.4,114.6 L457.9,115.1 L458.4,116.4 L458.9,116.4 L459.4,115.0 L459.9,114.5 L460.4,113.9 L460.9,113.4 L461.4,113.2 L461.9,113.1 L462.4,112.8 L462.9,112.3 L463.4,112.1 L463.9,112.0 L464.9,112.0 L465.4,112.1 L465.9,112.3 L466.4,112.8 L466.9,119.0 L467.9,119.0 L468.4,112.9 L468.9,112.4 L469.4,112.2 L469.9,112.1 L471.9,112.1 L472.4,112.2 L472.9,112.4 L473.4,112.9 L473.9,118.6 L476.9,118.6 L477.4,118.6 L477.9,110.5 L478.4,110.0 L478.9,109.8 L479.4,109.7 L479.9,109.8 L480.4,110.0 L480.9,110.5 L481.4,112.8 L483.4,112.8 L483.9,112.9 L484.4,113.1 L484.9,113.6 L485.4,118.3 L485.9,118.0 L486.4,117.7 L486.9,117.7 L490.9,117.7 L491.4,116.9 L491.9,116.4 L492.4,116.2 L492.9,116.1 L496.4,116.1 L496.9,111.5 L497.4,111.0 L497.9,110.7 L498.4,110.7 L500.4,110.7 L500.9,110.7 L501.4,111.0 L501.9,111.5 L502.4,117.1 L502.9,117.0 L503.4,117.0 L503.9,105.8 L504.4,105.3 L504.9,105.1 L505.4,105.0 L505.9,105.0 L506.4,105.1 L506.9,105.3 L507.4,105.8 L507.9,113.2 L508.9,113.2 L509.4,113.3 L509.9,113.5 L510.4,114.0 L510.9,114.8 L511.9,114.8 L512.5,114.9 L513.0,115.1 L513.5,115.6 L514.0,117.0 L514.5,117.2 L515.0,112.8 L515.5,112.3 L516.0,112.1 L516.5,112.0 L519.5,112.0 L520.0,112.1 L520.5,112.3 L521.0,112.8 L521.5,119.9 L522.0,117.1 L522.5,116.6 L523.0,116.4 L523.5,106.8 L524.0,106.3 L524.5,106.1 L525.0,106.0 L525.5,106.1 L526.0,106.3 L526.5,106.8 L527.0,114.2 L527.5,114.0 L528.0,113.9 L531.0,113.9 L531.5,114.0 L532.0,114.2 L532.5,113.3 L533.0,112.8 L533.5,112.6 L534.0,112.5 L534.5,112.5 L535.0,112.6 L535.5,112.8 L536.0,113.0 L536.5,112.7 L537.0,112.7 L539.0,112.7 L539.5,110.5 L540.0,110.0 L540.5,109.8 L541.0,109.7 L543.5,109.7 L544.0,109.8 L544.5,110.0 L545.0,110.5 L545.5,119.6 L547.0,119.6 L547.5,118.2 L548.0,117.7 L548.5,117.5 L549.0,117.4 L549.5,112.0 L550.0,111.5 L550.5,111.3 L551.0,111.2 L552.0,111.2 L552.5,109.2 L553.0,108.7 L553.5,108.5 L554.0,108.4 L557.5,108.4 L558.0,108.5 L558.5,108.7 L559.0,109.2 L559.5,113.1 L560.0,113.4 L560.5,113.9 L561.0,118.3 L562.5,118.3 L563.0,111.5 L563.5,110.9 L564.0,110.7 L564.5,110.6 L565.0,110.6 L565.5,110.4 L566.0,110.4 L568.0,110.4 L568.5,110.4 L569.0,110.7 L569.5,111.2 L570.0,116.0 L572.5,116.0 L573.0,115.3 L573.5,114.8 L574.0,114.6 L574.5,114.5 L577.0,114.5 L577.5,114.6 L578.0,114.8 L578.5,115.3 L579.0,119.5 L579.5,119.5 L580.0,118.3 L580.5,117.8 L581.0,117.6 L581.5,117.5 L585.0,117.5 L585.5,117.6 L586.0,117.8 L586.5,118.3 L589.0,118.3 L589.5,109.8 L590.0,109.3 L590.5,109.1 L591.0,109.0 L591.5,109.1 L592.0,109.3 L592.5,109.8 L593.0,117.6 L593.5,117.6 L597.5,117.6 L598.0,117.6 L598.5,117.9 L599.0,118.4 L599.5,119.2 L603.5,119.2 L604.0,118.3 L604.5,117.8 L605.0,117.6 L605.5,117.5 L611.0,117.5 L611.5,117.6 L612.0,117.8 L612.5,118.3 L613.0,118.6 L614.5,118.6 L615.0,117.5 L615.5,117.0 L616.0,116.8 L616.5,114.8 L617.0,114.3 L617.5,114.0 L618.0,114.0 L619.0,114.0 L619.5,109.8 L620.0,109.3 L620.5,109.1 L621.0,109.0 L624.0,109.0 L624.5,109.1 L625.0,109.3 L625.5,109.8 L626.0,110.9 L626.5,111.0 L627.0,109.6 L627.5,109.1 L628.0,108.8 L628.5,108.8 L629.0,108.8 L629.5,108.8 L630.0,109.1 L630.5,109.6 L631.0,111.3 L631.5,111.8 L632.0,118.6 L632.5,118.6 L633.0,111.5 L633.5,111.0 L634.0,110.7 L634.5,110.7 L635.0,110.7 L635.5,110.7 L636.0,111.0 L636.5,111.5 L637.0,117.0 L640.0,117.0 L640.5,116.8 L641.0,116.7 L648.0,116.7 L648.5,116.8 L649.0,117.0 L649.5,117.5 L650.0,117.9 L651.5,117.9 L652.0,117.6 L652.5,111.3 L653.0,110.8 L653.5,110.5 L654.0,110.5 L656.0,110.5 L656.5,110.4 L657.0,110.3 L660.0,110.3 L660.5,110.4 L661.0,110.6 L661.5,111.1 L662.0,116.8 L664.5,116.7 L665.0,116.5 L665.5,116.4 L668.5,116.4 L669.0,109.7 L669.5,109.2 L670.0,109.0 L670.5,108.9 L672.0,108.9 L672.5,109.0 L673.0,109.2 L673.5,109.7 L674.0,116.5 L674.5,116.7 L675.0,117.2 L675.5,119.5 L676.0,117.6 L676.5,117.1 L677.0,116.9 L677.5,116.8 L678.5,116.8 L679.0,114.7 L679.5,114.2 L680.0,114.0 L680.5,113.9 L682.0,113.9 L682.5,114.0 L683.0,114.2 L683.5,114.7 L684.0,116.8 L684.5,116.3 L685.0,116.1 L685.5,116.0 L691.0,116.0 L691.5,116.1 L692.0,116.3 L692.5,116.7 L693.5,116.7 L694.0,116.8 L694.5,117.0 L695.0,117.4 L695.5,113.4 L696.0,112.9 L696.5,112.7 L697.0,112.6 L698.0,112.6 L698.5,112.7 L699.0,112.8 L699.5,112.6 L700.0,112.5 L701.5,112.5 L702.0,112.6 L702.5,112.8 L703.0,113.3 L703.5,118.5 L704.5,118.5 L705.0,118.5 L705.5,118.8 L706.0,119.3 L706.5,119.4 L709.5,119.4 L710.0,119.4 L710.5,119.6 L713.0,119.6 L713.5,118.6 L714.0,114.6 L714.5,114.1 L715.0,113.9 L715.5,113.8 L718.0,113.8 L718.5,113.9 L719.0,114.1 L719.5,114.6 L720.0,117.9 L720.5,118.0 L724.0,118.0 L724.5,117.9 L726.0,117.9 L726.5,112.6 L727.0,110.8 L727.5,110.2 L728.0,110.0 L728.5,109.9 L729.0,109.7 L729.5,109.7 L730.5,109.7 L731.0,109.7 L731.5,110.0 L732.0,110.2 L732.5,110.8 L733.0,110.3 L733.5,109.8 L734.0,109.6 L734.5,109.5 L737.5,109.5 L738.0,109.6 L738.5,109.8 L739.0,110.3 L739.5,117.2 L741.5,117.2 L742.0,110.6 L742.5,110.1 L743.0,109.9 L743.5,109.8 L744.0,109.8 L744.5,109.6 L745.0,109.5 L745.5,109.6 L746.0,109.8 L746.5,110.3 L747.0,119.2 L749.0,119.2 L749.5,119.1 L750.0,119.0 L751.5,119.0 L752.0,117.8 L752.5,117.3 L753.0,117.1 L753.5,117.0 L754.5,117.0 L755.0,109.8 L755.5,109.3 L756.0,109.1 L756.5,109.0 L757.0,109.1 L757.5,109.3 L758.0,109.8 L758.5,110.2 L759.0,110.2 L759.5,110.3 L760.0,110.6 L760.5,111.1 L761.0,114.0 L761.5,113.5 L762.0,113.3 L762.5,113.2 L763.0,111.4 L763.5,110.9 L764.0,110.6 L764.5,110.6 L767.5,110.6 L768.0,110.6 L768.5,110.9 L769.0,111.4 L769.5,117.1 L772.5,117.1 L773.0,116.9 L773.5,116.6 L774.0,116.6 L779.0,116.6 L779.5,116.6 L780.0,116.9 L780.5,112.4 L781.0,111.9 L781.5,111.6 L782.0,111.6 L784.0,111.6 L784.5,111.6 L785.0,111.9 L785.5,112.4 L786.0,112.9 L786.5,112.7 L787.0,112.6 L790.0,112.6 L790.5,112.7 L791.0,111.1 L791.5,110.6 L792.0,110.4 L792.5,110.3 L794.5,110.3 L795.0,110.4 L795.5,110.6 L796.0,111.1 L796.5,114.6 L797.0,114.3 L797.5,114.3 L798.0,114.3 L798.5,111.0 L799.0,110.5 L799.5,110.3 L800.0,110.2 L802.5,110.2 L803.0,110.3 L803.5,110.5 L804.0,111.0 L804.5,116.7 L805.0,116.5 L805.5,116.4 L811.5,116.4 L812.0,116.5 L812.5,116.7 L813.0,117.2 L813.5,119.5 L815.0,119.5 L815.5,119.1 L816.0,118.9 L816.5,118.8 L817.0,118.8 L817.5,115.8 L818.0,115.3 L818.5,115.0 L819.0,114.9 L821.5,114.9 L822.0,115.0 L822.5,115.3 L823.0,115.8 L823.5,116.8 L825.5,116.8 L826.0,109.9 L826.5,109.4 L827.0,109.1 L827.5,109.1 L828.5,109.1 L829.0,109.0 L829.5,108.5 L830.0,108.3 L830.5,108.2 L831.5,108.2 L832.0,108.3 L832.5,108.5 L833.0,108.6 L833.5,108.6 L834.0,108.6 L834.5,108.9 L835.0,109.4 L835.5,119.3 L837.0,119.3 L837.5,119.3 L838.0,118.8 L838.5,118.5 L839.0,112.2 L839.5,111.7 L840.0,111.4 L840.5,111.4 L841.5,111.4 L842.0,110.8 L842.5,110.3 L843.0,110.0 L843.5,110.0 L845.5,110.0 L846.0,110.0 L846.5,110.3 L847.0,110.8 L847.5,118.3 L848.0,118.3 L848.5,117.4 L849.0,113.0 L849.5,112.5 L850.0,109.3 L850.5,108.8 L851.0,108.6 L851.5,108.5 L852.0,108.6 L852.5,108.8 L853.0,109.3 L853.5,113.0 L854.0,116.6 L854.5,116.6 L855.0,116.7 L855.5,116.9 L856.0,117.4 L856.5,111.1 L857.0,110.6 L857.5,110.4 L858.0,110.3 L861.0,110.3 L861.5,110.4 L862.0,110.6 L862.5,111.1 L863.0,117.9 L865.5,117.9 L866.0,111.3 L866.5,110.8 L867.0,110.5 L867.5,110.5 L868.5,110.5 L869.0,110.5 L869.5,110.8 L870.0,111.3 L870.5,119.4 L871.0,117.3 L871.5,116.8 L872.0,116.6 L872.5,116.5 L873.5,116.5 L874.0,111.8 L874.5,111.3 L875.0,111.0 L875.5,111.0 L878.0,111.0 L878.5,111.0 L879.0,111.3 L879.5,111.8 L880.0,116.6 L880.5,112.6 L881.0,112.1 L881.5,111.9 L882.0,109.2 L882.5,108.7 L883.0,108.4 L883.5,108.4 L885.5,108.4 L886.0,108.4 L886.5,108.7 L887.0,109.2 L887.5,119.5 L892.0,119.5 L892.5,118.3 L893.0,117.8 L893.5,117.6 L894.0,117.5 L897.0,117.5 L897.5,112.3 L898.0,111.8 L898.5,111.5 L899.0,111.5 L900.0,111.5 L900.5,111.5 L901.0,111.8 L901.5,112.3 L902.0,112.4 L902.5,111.5 L903.0,111.0 L903.5,110.8 L904.0,110.7 L907.5,110.7 L908.0,110.8 L908.5,111.0 L909.0,111.5 L909.5,117.7 L910.0,117.2 L910.5,117.0 L911.0,116.9 L915.5,116.9 L916.0,117.0 L916.5,117.2 L917.0,117.7 L917.5,119.5 L920.0,119.5 L920.5,118.0 L921.0,117.5 L921.5,117.3 L922.0,117.2 L926.5,117.2 L927.0,117.3 L927.5,117.5 L928.0,118.0 L928.5,118.5 L931.0,118.5 L931.5,118.4 L932.0,118.2 L932.5,118.1 L935.0,118.1 L935.5,117.1 L936.0,116.6 L936.5,116.4 L937.0,116.3 L939.0,116.3 L939.5,116.4 L940.0,116.6 L940.5,113.6 L941.0,113.1 L941.5,112.8 L942.0,112.8 L942.5,112.8 L943.0,113.1 L943.5,113.6 L944.0,116.5 L946.0,116.5 L946.5,116.6 L947.0,116.8 L947.5,117.3 L948.0,119.0 L951.0,119.0 L951.5,117.3 L952.0,116.8 L952.5,116.6 L953.0,116.5 L953.0,208.4 L951.5,208.4 L951.0,208.3 L950.5,208.1 L950.0,207.6 L949.5,203.6 L948.0,203.6 L947.5,203.6 L947.0,203.3 L946.5,202.8 L946.0,202.7 L945.5,203.2 L945.0,203.4 L944.5,203.5 L943.0,203.5 L942.5,203.8 L942.0,204.3 L941.5,204.5 L941.0,204.6 L936.0,204.6 L935.5,204.5 L935.0,204.3 L934.5,203.8 L934.0,202.8 L929.0,202.8 L928.5,204.0 L928.0,204.5 L927.5,204.8 L927.0,210.5 L926.5,211.0 L926.0,211.2 L925.5,211.3 L924.0,211.3 L923.5,211.2 L923.0,211.0 L922.5,210.5 L922.0,207.5 L921.5,207.5 L921.0,207.5 L920.5,207.2 L920.0,206.7 L919.5,204.5 L917.5,204.5 L917.0,204.8 L916.5,205.3 L916.0,205.5 L915.5,205.6 L912.5,205.6 L912.0,210.9 L911.5,211.4 L911.0,211.6 L910.5,211.7 L910.0,211.7 L909.5,211.6 L909.0,211.6 L908.0,211.6 L907.5,211.5 L907.0,211.3 L906.5,210.8 L906.0,204.5 L905.5,204.7 L905.0,204.8 L904.0,204.8 L903.5,206.2 L903.0,206.7 L902.5,209.8 L902.0,210.3 L901.5,210.5 L901.0,210.6 L899.5,210.6 L899.0,210.5 L898.5,210.3 L898.0,209.8 L897.5,204.7 L897.0,204.5 L896.5,207.1 L896.0,207.6 L895.5,207.8 L895.0,207.9 L894.5,207.9 L894.0,208.0 L891.5,208.0 L891.0,207.9 L890.5,207.7 L890.0,207.2 L889.5,205.5 L885.5,205.5 L885.0,207.2 L884.5,207.7 L884.0,208.0 L883.5,208.0 L880.5,208.0 L880.0,208.0 L879.5,207.8 L879.0,207.9 L876.0,207.9 L875.5,207.8 L875.0,207.6 L874.5,207.2 L874.0,206.7 L873.5,204.7 L872.5,204.7 L872.0,204.7 L871.5,204.8 L870.0,204.8 L869.5,204.7 L869.0,204.5 L868.5,204.4 L865.0,204.4 L864.5,204.8 L864.0,205.3 L863.5,205.5 L863.0,205.6 L861.5,205.6 L861.0,207.4 L860.5,208.0 L860.0,208.2 L859.5,208.3 L859.0,208.3 L858.5,208.9 L858.0,209.4 L857.5,209.6 L857.0,209.7 L855.5,209.7 L855.0,209.6 L854.5,209.4 L854.0,208.9 L853.5,204.9 L853.0,210.2 L852.5,210.7 L852.0,210.9 L851.5,211.0 L849.5,211.0 L849.0,210.9 L848.5,210.7 L848.0,210.2 L847.5,203.1 L844.0,203.1 L843.5,204.5 L843.0,205.0 L842.5,205.2 L842.0,205.3 L840.5,205.3 L840.0,216.7 L839.5,217.2 L839.0,217.4 L838.5,217.5 L838.0,217.4 L837.5,217.2 L837.0,216.7 L836.5,205.0 L832.0,205.0 L831.5,211.7 L831.0,212.2 L830.5,212.4 L830.0,212.5 L829.5,212.4 L829.0,212.2 L828.5,211.7 L828.0,202.9 L825.5,202.9 L825.0,203.7 L824.5,204.2 L824.0,204.4 L823.5,210.8 L823.0,211.3 L822.5,211.5 L822.0,211.6 L821.5,211.6 L821.0,211.5 L820.5,211.3 L820.0,210.8 L819.5,204.2 L819.0,203.7 L814.5,203.7 L814.0,204.0 L813.5,204.0 L813.0,204.0 L812.5,210.9 L812.0,211.4 L811.5,211.6 L811.0,211.7 L810.5,211.7 L810.0,211.6 L809.5,211.4 L809.0,210.9 L808.5,204.0 L808.0,203.7 L807.5,203.2 L807.0,203.1 L806.5,206.2 L806.0,206.7 L805.5,207.0 L805.0,207.0 L804.5,207.0 L804.0,206.7 L803.5,206.2 L803.0,204.2 L797.5,204.2 L797.0,209.5 L796.5,210.0 L796.0,210.2 L795.5,210.3 L792.5,210.3 L792.0,210.2 L791.5,210.0 L791.0,209.5 L790.5,208.8 L790.0,208.3 L789.5,207.4 L789.0,209.0 L788.5,209.5 L788.0,209.7 L787.5,209.8 L784.0,209.8 L783.5,209.7 L783.0,209.5 L782.5,209.0 L782.0,204.0 L780.5,204.0 L780.0,207.3 L779.5,207.8 L779.0,208.0 L778.5,208.1 L776.5,208.1 L776.0,208.0 L775.5,207.8 L775.0,207.3 L774.5,204.5 L772.0,204.5 L771.5,204.4 L771.0,204.2 L764.0,204.2 L763.5,204.1 L763.0,203.9 L762.5,203.7 L759.5,203.7 L759.0,203.6 L758.5,203.5 L758.0,206.9 L757.5,207.4 L757.0,207.6 L756.5,207.7 L753.5,207.7 L753.0,207.6 L752.5,207.4 L752.0,206.9 L751.5,205.1 L751.0,205.4 L750.5,205.4 L748.0,205.4 L747.5,209.8 L747.0,210.3 L746.5,210.5 L746.0,210.6 L744.5,210.6 L744.0,210.5 L743.5,210.3 L743.0,209.8 L742.5,209.3 L742.0,209.1 L741.5,208.6 L741.0,204.9 L739.5,204.9 L739.0,204.9 L738.5,204.6 L738.0,204.1 L737.5,202.6 L735.5,202.6 L735.0,210.7 L734.5,211.2 L734.0,211.4 L733.5,211.5 L732.0,211.5 L731.5,211.4 L731.0,211.2 L730.5,210.7 L730.0,204.8 L728.5,204.8 L728.0,204.8 L727.5,209.3 L727.0,210.6 L726.5,211.1 L726.0,211.4 L725.5,211.4 L724.0,211.4 L723.5,211.4 L723.0,211.1 L722.5,210.6 L722.0,209.8 L721.5,209.3 L721.0,206.8 L720.5,206.9 L718.5,206.9 L718.0,206.8 L717.5,206.6 L717.0,206.1 L716.5,204.4 L716.0,202.4 L714.5,202.4 L714.0,205.0 L713.5,205.5 L713.0,205.7 L712.5,205.8 L710.0,205.8 L709.5,207.8 L709.0,208.3 L708.5,208.5 L708.0,208.6 L705.0,208.6 L704.5,208.5 L704.0,208.3 L703.5,207.8 L703.0,204.6 L699.5,204.6 L699.0,204.5 L698.5,204.3 L698.0,203.8 L697.5,202.3 L697.0,210.1 L696.5,210.6 L696.0,210.8 L695.5,210.9 L693.0,210.9 L692.5,210.8 L692.0,210.6 L691.5,210.1 L691.0,208.6 L690.0,208.6 L689.5,208.5 L689.0,208.3 L688.5,207.8 L688.0,203.8 L687.0,203.8 L686.5,204.2 L686.0,204.7 L685.5,205.0 L685.0,205.0 L683.5,205.0 L683.0,213.7 L682.5,214.2 L682.0,214.4 L681.5,214.5 L681.0,214.4 L680.5,214.2 L680.0,213.7 L679.5,204.2 L679.0,203.5 L677.0,203.5 L676.5,210.9 L676.0,211.4 L675.5,211.7 L675.0,211.7 L673.5,211.7 L673.0,211.7 L672.5,211.4 L672.0,210.9 L671.5,202.7 L671.0,202.2 L667.0,202.2 L666.5,203.8 L666.0,204.3 L665.5,204.5 L665.0,204.6 L664.0,204.6 L663.5,207.1 L663.0,207.6 L662.5,207.8 L662.0,207.9 L661.5,207.9 L661.0,207.8 L660.5,207.6 L660.0,207.1 L659.5,204.6 L658.0,204.6 L657.5,204.5 L656.0,204.5 L655.5,204.4 L655.0,204.2 L654.5,203.7 L654.0,202.6 L650.5,202.6 L650.0,204.6 L649.5,205.1 L649.0,205.3 L648.5,205.4 L645.5,205.4 L645.0,205.3 L644.5,205.1 L639.0,205.0 L638.5,205.0 L638.0,204.7 L637.5,204.4 L635.5,204.4 L635.0,204.7 L634.5,204.9 L634.0,205.0 L629.5,205.0 L629.0,207.2 L628.5,207.7 L628.0,207.9 L627.5,208.0 L627.0,208.0 L626.5,207.9 L626.0,207.7 L625.5,207.2 L625.0,204.7 L624.5,204.2 L624.0,202.6 L619.5,202.6 L619.0,202.8 L618.5,203.1 L618.0,203.2 L617.5,209.8 L617.0,210.3 L616.5,210.5 L616.0,210.6 L613.0,210.6 L612.5,210.5 L612.0,210.3 L611.5,209.8 L611.0,206.8 L610.5,206.8 L610.0,209.5 L609.5,210.0 L609.0,210.2 L608.5,210.3 L605.5,210.3 L605.0,210.2 L604.5,210.0 L604.0,209.5 L603.5,209.2 L602.5,209.2 L602.0,209.1 L601.5,208.9 L601.0,208.4 L600.5,204.4 L600.0,204.5 L599.0,204.5 L598.5,207.3 L598.0,207.8 L597.5,208.0 L597.0,208.1 L595.5,208.1 L595.0,209.4 L594.5,209.9 L594.0,210.2 L593.5,210.2 L592.5,210.2 L592.0,210.2 L591.5,209.9 L591.0,209.4 L590.5,204.8 L590.0,211.2 L589.5,211.7 L589.0,211.9 L588.5,212.0 L586.0,212.0 L585.5,211.9 L585.0,211.7 L584.5,211.2 L584.0,205.0 L583.0,205.0 L582.5,213.2 L582.0,213.7 L581.5,213.9 L581.0,214.0 L580.5,213.9 L580.0,213.7 L579.5,213.2 L579.0,204.9 L573.0,204.9 L572.5,204.9 L572.0,204.6 L571.5,204.1 L571.0,202.9 L567.0,202.9 L566.5,202.8 L566.0,202.6 L565.5,202.2 L565.0,202.2 L564.5,205.0 L564.0,205.5 L563.5,205.7 L563.0,205.8 L560.5,205.8 L560.0,224.2 L559.5,224.7 L559.0,224.9 L558.5,225.0 L558.0,225.0 L557.5,224.9 L557.0,224.7 L556.5,224.2 L556.0,210.0 L555.5,210.0 L555.0,209.7 L554.5,209.2 L554.0,204.2 L553.5,204.2 L553.0,209.9 L552.5,210.4 L552.0,210.6 L551.5,210.7 L549.5,210.7 L549.0,210.6 L548.5,210.4 L548.0,209.9 L547.5,205.0 L547.0,205.0 L546.5,205.0 L546.0,204.7 L545.5,204.2 L545.0,203.7 L541.5,203.7 L541.0,203.8 L540.5,204.3 L540.0,204.5 L539.5,204.6 L538.5,204.6 L538.0,210.7 L537.5,211.2 L537.0,211.4 L536.5,211.5 L536.0,211.5 L535.5,211.4 L535.0,211.2 L534.5,210.7 L534.0,210.4 L532.5,210.4 L532.0,210.3 L531.5,210.1 L531.0,209.6 L530.5,205.2 L528.5,205.2 L528.0,205.1 L527.5,204.9 L527.0,205.2 L526.5,205.4 L526.0,205.5 L518.0,205.5 L517.5,205.4 L517.0,205.2 L516.5,204.7 L516.0,203.7 L515.5,204.0 L515.0,204.0 L513.5,204.0 L513.0,210.6 L512.5,211.1 L511.9,211.3 L511.4,211.4 L510.9,211.3 L510.4,211.1 L509.9,210.6 L509.4,205.3 L508.9,205.3 L505.4,205.3 L504.9,210.3 L504.4,210.8 L503.9,211.0 L503.4,211.1 L500.9,211.1 L500.4,211.0 L499.9,210.8 L499.4,210.3 L498.9,207.9 L498.4,205.0 L497.9,205.2 L497.4,205.3 L494.4,205.3 L493.9,208.4 L493.4,208.9 L492.9,209.1 L492.4,209.2 L491.9,209.1 L491.4,208.9 L490.9,208.4 L490.4,207.8 L488.9,207.8 L488.4,207.7 L487.9,207.5 L487.4,207.0 L486.9,210.9 L486.4,211.4 L485.9,211.7 L485.4,211.7 L483.4,211.7 L482.9,211.7 L482.4,211.4 L481.9,210.9 L481.4,204.0 L480.9,204.2 L480.4,204.3 L479.4,204.3 L478.9,208.3 L478.4,208.8 L477.9,209.1 L477.4,210.7 L476.9,211.2 L476.4,211.4 L475.9,211.5 L475.4,211.4 L474.9,211.2 L474.4,210.7 L473.9,208.8 L471.4,208.8 L470.9,208.8 L470.4,208.5 L469.9,208.0 L469.4,203.1 L467.4,203.1 L466.9,203.2 L466.4,203.7 L465.9,204.0 L465.4,204.0 L458.9,204.1 L458.4,204.0 L457.9,203.8 L457.4,203.3 L456.9,204.7 L456.4,205.2 L455.9,205.4 L455.4,205.5 L452.4,205.5 L451.9,205.4 L451.4,205.2 L450.9,204.7 L450.4,206.6 L449.9,207.1 L449.4,207.3 L448.9,207.4 L447.9,207.4 L447.4,207.3 L446.9,207.1 L446.4,206.6 L445.9,203.0 L445.4,203.2 L444.9,203.3 L442.9,203.3 L442.4,204.1 L441.9,204.6 L441.4,204.9 L440.9,204.9 L438.9,204.9 L438.4,204.9 L437.9,204.6 L437.4,204.1 L436.9,203.8 L432.4,203.8 L431.9,206.7 L431.4,207.2 L430.9,207.5 L430.4,207.5 L427.9,207.5 L427.4,207.5 L426.9,209.8 L426.4,210.3 L425.9,210.5 L425.4,210.6 L424.4,210.6 L423.9,210.5 L423.4,210.3 L422.9,209.8 L422.4,205.5 L421.9,205.3 L421.4,204.8 L420.9,202.5 L419.4,202.5 L418.9,204.8 L418.4,205.3 L417.9,207.4 L417.4,207.9 L416.9,208.2 L416.4,208.2 L415.9,208.2 L415.4,208.2 L414.9,207.9 L414.4,207.4 L413.9,204.8 L413.4,204.2 L410.9,204.2 L410.4,204.2 L409.9,203.9 L409.4,203.4 L408.9,207.6 L408.4,208.1 L407.9,208.3 L407.4,208.4 L406.9,208.4 L406.4,209.1 L405.9,209.6 L405.4,209.8 L404.9,209.9 L404.4,209.9 L403.9,209.8 L403.4,209.6 L402.9,209.1 L402.4,204.5 L397.4,204.5 L396.9,208.8 L396.4,209.3 L395.9,209.6 L395.4,209.6 L394.4,209.6 L393.9,209.6 L393.4,209.3 L392.9,208.8 L392.4,202.5 L391.9,202.7 L391.4,202.8 L389.9,202.8 L389.4,203.0 L388.9,203.1 L388.4,203.2 L387.9,207.5 L387.4,208.0 L386.9,208.3 L386.4,208.3 L385.9,208.3 L385.4,211.7 L384.9,212.2 L384.4,212.4 L383.9,212.5 L383.4,212.5 L382.9,212.4 L382.4,212.2 L381.9,211.7 L381.4,210.4 L378.4,210.4 L377.9,210.3 L377.4,210.1 L376.9,210.1 L376.4,210.3 L375.9,210.4 L374.4,210.4 L373.9,210.3 L373.4,210.1 L372.9,209.6 L372.4,203.5 L368.4,203.5 L367.9,203.5 L367.4,203.6 L364.4,203.6 L363.9,204.2 L363.4,204.7 L362.9,204.9 L362.4,205.0 L360.9,205.0 L360.4,207.0 L359.9,207.5 L359.4,207.7 L358.9,207.8 L355.4,207.8 L354.9,207.7 L354.4,207.5 L353.9,207.0 L353.4,204.8 L350.9,204.8 L350.4,204.7 L349.9,204.5 L349.4,204.0 L346.9,204.0 L346.4,203.9 L345.9,203.7 L345.4,203.6 L344.9,203.8 L344.4,203.9 L340.4,203.9 L339.9,206.4 L339.4,206.9 L338.9,207.1 L338.4,207.2 L336.9,207.2 L336.4,207.1 L335.9,206.9 L335.4,208.5 L334.9,209.0 L334.4,209.2 L333.9,209.3 L332.4,209.3 L331.9,209.2 L331.4,209.0 L330.9,208.5 L330.4,204.7 L326.4,204.7 L325.9,206.5 L325.4,207.0 L324.9,207.2 L324.4,207.3 L323.9,207.2 L323.4,207.0 L322.9,206.5 L322.4,205.5 L320.9,205.5 L320.4,205.5 L319.9,205.2 L319.4,204.7 L318.9,207.0 L318.4,207.5 L317.9,207.8 L317.4,207.8 L316.9,207.8 L316.4,207.8 L315.9,207.5 L315.4,207.0 L314.9,204.8 L314.4,205.0 L313.9,205.1 L313.4,209.9 L312.9,210.4 L312.4,210.6 L311.9,210.7 L308.9,210.7 L308.4,210.6 L307.9,211.0 L307.4,211.2 L306.9,211.3 L304.9,211.3 L304.4,211.2 L303.9,211.0 L303.4,210.5 L302.9,205.4 L299.9,205.4 L299.4,205.4 L298.9,205.1 L298.4,204.6 L297.9,204.3 L295.4,204.3 L294.9,208.1 L294.4,208.6 L293.9,208.8 L293.4,208.9 L292.4,208.9 L291.9,214.7 L291.4,215.2 L290.9,215.4 L290.4,215.5 L289.9,215.4 L289.4,215.2 L288.9,214.7 L288.4,203.4 L287.9,203.4 L287.4,207.5 L286.9,208.0 L286.4,208.2 L285.9,208.3 L282.9,208.3 L282.4,208.2 L281.9,208.0 L281.4,207.5 L280.9,203.0 L280.4,203.0 L279.9,204.2 L279.4,204.7 L278.9,205.0 L278.4,205.0 L276.4,205.0 L275.9,205.0 L275.4,204.7 L274.9,204.2 L274.4,203.7 L273.9,203.7 L268.9,203.7 L268.4,206.1 L267.9,206.6 L267.4,206.9 L266.9,207.0 L265.4,207.0 L264.9,206.9 L264.4,206.6 L263.9,209.2 L263.4,209.7 L262.9,209.9 L262.4,210.0 L259.4,210.0 L258.9,209.9 L258.4,209.7 L257.9,209.2 L257.4,204.7 L255.4,204.7 L254.9,209.8 L254.4,210.3 L253.9,210.5 L253.4,210.6 L251.9,210.6 L251.4,210.5 L250.9,210.3 L250.4,212.2 L249.9,212.7 L249.4,212.9 L248.9,213.0 L248.4,212.9 L247.9,212.7 L247.4,212.2 L246.9,205.1 L245.9,205.1 L245.4,211.0 L244.9,211.5 L244.4,211.8 L243.9,211.8 L240.9,211.8 L240.4,211.8 L239.9,211.5 L239.4,211.0 L238.9,204.8 L233.9,204.8 L233.4,204.8 L232.9,204.5 L232.4,204.0 L231.9,208.7 L231.4,209.2 L230.9,209.4 L230.4,209.5 L229.4,209.5 L228.9,209.4 L228.4,209.2 L227.9,208.7 L227.4,218.7 L226.9,219.2 L226.4,219.4 L225.9,219.5 L225.4,219.5 L224.9,219.4 L224.4,219.2 L223.9,218.7 L223.4,209.8 L222.4,209.8 L221.9,209.7 L221.4,209.5 L220.9,209.0 L220.4,209.5 L219.9,209.8 L219.4,209.8 L218.4,209.8 L217.9,209.8 L217.4,209.5 L216.9,209.0 L216.4,204.9 L215.9,208.2 L215.4,208.7 L214.9,208.9 L214.4,209.0 L211.4,209.0 L210.9,208.9 L210.4,208.7 L209.9,208.2 L209.4,207.9 L208.9,207.6 L208.4,207.1 L207.9,204.9 L203.9,204.9 L203.4,209.1 L202.9,209.6 L202.4,209.8 L201.9,209.9 L199.9,209.9 L199.4,209.8 L198.9,209.6 L198.4,209.1 L197.9,205.3 L196.4,205.3 L195.9,205.3 L195.4,205.0 L194.9,204.5 L194.4,202.3 L191.4,202.3 L190.9,206.4 L190.4,206.9 L189.9,207.2 L189.4,207.2 L188.9,207.6 L188.4,207.8 L187.9,207.9 L185.9,207.9 L185.4,207.8 L184.9,207.6 L184.4,207.1 L183.9,205.4 L182.4,205.4 L181.9,205.8 L181.4,206.3 L180.9,206.6 L180.4,206.6 L179.9,206.6 L179.4,206.6 L178.9,206.3 L178.4,205.8 L177.9,204.6 L177.4,203.3 L172.4,203.3 L171.9,203.7 L171.4,204.2 L170.9,204.5 L170.4,204.5 L167.4,204.5 L166.9,204.5 L166.4,204.2 L165.9,204.0 L163.9,204.0 L163.4,204.5 L162.9,204.8 L162.4,204.8 L156.4,204.8 L155.9,204.8 L155.4,204.5 L154.9,210.7 L154.4,211.2 L153.9,211.5 L153.4,211.5 L152.4,211.5 L151.9,211.5 L151.4,211.2 L150.9,210.7 L150.4,203.5 L149.9,204.0 L149.4,204.2 L148.9,204.3 L145.4,204.3 L144.9,204.5 L144.4,204.7 L143.9,204.8 L141.9,204.8 L141.4,209.5 L140.9,210.0 L140.4,210.2 L139.9,210.3 L136.9,210.3 L136.4,210.6 L135.9,210.8 L135.4,210.9 L132.9,210.9 L132.4,210.8 L131.9,210.6 L131.4,210.1 L130.9,205.3 L125.0,205.3 L124.5,205.2 L124.0,205.0 L123.5,204.5 L123.0,203.5 L117.5,203.5 Z" fill="#00ff00"/>
<rect x="609.90" y="27.20" width="371.50" height="120.90" fill="#fff" stroke="#999" stroke-width="1.3"/>
<line x1="616.1" y1="48.3" x2="649.7" y2="48.3" stroke="#0000ff" stroke-width="3.9"/>
<line x1="616.1" y1="87.1" x2="649.7" y2="87.1" stroke="#ff0000" stroke-width="3.9"/>
<line x1="616.1" y1="126.0" x2="649.7" y2="126.0" stroke="#00ff00" stroke-width="3.9"/>
<rect x="102.40" y="456.10" width="866.20" height="295.30" fill="none" stroke="#9a9a9a" stroke-width="1.3"/>
<line x1="318.95" y1="751.40" x2="318.95" y2="742.40" stroke="#9a9a9a" stroke-width="1.2"/>
<line x1="318.95" y1="456.10" x2="318.95" y2="465.10" stroke="#9a9a9a" stroke-width="1.2"/>
<line x1="535.50" y1="751.40" x2="535.50" y2="742.40" stroke="#9a9a9a" stroke-width="1.2"/>
<line x1="535.50" y1="456.10" x2="535.50" y2="465.10" stroke="#9a9a9a" stroke-width="1.2"/>
<line x1="752.05" y1="751.40" x2="752.05" y2="742.40" stroke="#9a9a9a" stroke-width="1.2"/>
<line x1="752.05" y1="456.10" x2="752.05" y2="465.10" stroke="#9a9a9a" stroke-width="1.2"/>
<line x1="102.40" y1="603.75" x2="111.40" y2="603.75" stroke="#9a9a9a" stroke-width="1.2"/>
<line x1="968.60" y1="603.75" x2="959.60" y2="603.75" stroke="#9a9a9a" stroke-width="1.2"/>
<path d="M103.3,534.3 L104.8,535.5 L107.2,559.4 L109.1,580.9 L111.5,590.5 L113.2,616.8 L115.6,657.5 L117.2,679.0 L119.6,686.7 L121.1,671.8 L123.9,659.9 L125.8,633.5 L127.5,600.0 L129.2,569.0 L130.6,555.1 L132.5,554.6 L134.7,560.6 L136.6,554.6 L138.8,544.5 L140.7,554.6 L142.6,570.1 L145.5,574.9 L147.8,583.3 L149.3,602.4 L150.7,633.5 L152.6,667.0 L154.5,680.2 L156.2,668.2 L158.6,663.4 L160.5,645.5 L162.2,609.6 L163.6,576.1 L165.1,567.8 L167.5,564.6 L169.4,565.4 L171.3,557.0 L173.0,536.7 L175.4,539.0 L177.0,542.6 L180.1,543.1 L182.1,561.8 L183.7,597.7 L185.6,633.5 L188.0,662.2 L190.4,686.2 L192.8,690.5 L195.2,685.0 L196.9,652.7 L198.6,624.0 L201.7,604.8 L204.8,580.9 L206.7,549.8 L208.9,530.7 L211.2,523.5 L213.2,513.9 L214.6,501.5 L216.3,506.7 L217.2,513.9 L218.9,530.7 L220.8,561.8 L222.5,592.9 L224.4,626.4 L226.8,655.1 L230.4,674.2 L231.6,657.5 L233.5,649.8 L236.4,646.7 L238.3,640.7 L240.0,624.0 L241.6,600.0 L243.5,576.1 L245.9,554.6 L248.3,521.1 L250.7,521.1 L253.1,549.8 L255.0,585.7 L257.4,609.6 L259.8,628.8 L262.2,643.1 L264.6,657.5 L266.3,643.1 L268.7,641.2 L271.1,646.7 L272.7,647.9 L274.6,624.0 L277.0,595.3 L279.4,566.6 L282.3,542.6 L284.2,521.1 L286.1,511.5 L288.0,521.1 L290.2,557.0 L292.6,590.5 L295.0,624.0 L297.4,643.1 L298.4,640.7 L300.8,653.2 L303.2,653.9 L304.8,664.6 L306.7,672.3 L309.1,662.2 L311.1,633.5 L313.0,604.8 L314.9,576.1 L316.8,549.8 L318.7,518.7 L320.6,504.8 L322.3,509.1 L324.0,523.5 L325.9,547.4 L328.3,568.9 L330.7,590.5 L332.6,609.6 L335.0,624.0 L336.9,635.9 L339.0,657.5 L340.7,679.0 L342.2,683.3 L344.5,680.2 L346.5,652.7 L348.1,624.0 L349.8,595.3 L351.7,561.8 L353.6,533.1 L355.3,524.7 L357.7,528.3 L359.9,540.2 L362.2,553.4 L364.6,558.2 L366.6,573.7 L368.9,588.1 L371.3,604.8 L373.7,628.8 L375.6,652.7 L377.6,671.8 L379.2,680.2 L380.9,671.8 L382.8,645.5 L384.7,624.0 L386.4,597.7 L388.1,568.9 L389.5,553.4 L391.7,549.3 L393.3,554.6 L394.8,563.0 L396.9,561.8 L398.9,558.2 L400.5,559.4 L402.0,571.3 L403.6,579.7 L406.0,584.5 L407.7,600.0 L409.6,628.8 L411.5,657.5 L413.2,681.4 L414.9,683.3 L416.8,674.2 L418.7,657.5 L420.4,640.7 L422.1,609.6 L424.0,576.1 L425.6,567.8 L427.1,559.4 L428.8,566.6 L431.1,552.2 L433.5,541.4 L435.5,535.0 L437.1,545.0 L439.5,546.2 L441.2,561.8 L443.1,576.1 L445.0,604.8 L446.9,638.3 L448.4,667.0 L450.3,675.4 L452.7,671.8 L455.1,668.2 L457.0,638.3 L458.9,609.6 L461.0,592.9 L463.0,595.3 L465.4,568.9 L467.5,547.4 L469.4,537.8 L471.8,536.7 L473.7,529.5 L475.9,531.9 L477.8,561.8 L479.7,597.7 L481.4,638.3 L483.8,645.5 L486.2,657.5 L488.1,669.4 L489.1,671.8 L490.8,657.5 L492.4,638.3 L493.9,626.4 L495.6,627.6 L497.9,624.0 L499.6,602.4 L501.5,569.0 L503.4,559.4 L505.8,540.2 L508.2,523.5 L510.1,518.2 L512.1,521.1 L513.5,547.4 L515.2,580.9 L516.4,604.8 L517.8,624.0 L519.7,633.5 L521.9,645.5 L523.5,661.0 L525.5,652.7 L527.4,638.3 L529.0,630.0 L530.7,640.2 L533.1,640.7 L535.0,614.4 L536.9,585.7 L538.9,561.8 L541.2,537.8 L542.9,523.5 L544.6,513.9 L545.8,511.5 L547.0,521.1 L548.4,547.4 L550.3,571.3 L552.2,592.9 L554.2,612.0 L556.1,628.8 L558.0,645.5 L559.4,643.1 L561.3,633.5 L563.3,626.4 L564.9,643.1 L567.3,655.1 L569.0,643.1 L570.9,628.8 L572.8,602.4 L574.5,580.9 L576.2,545.0 L578.1,525.9 L580.0,519.9 L581.7,525.9 L583.3,549.8 L585.3,576.1 L587.2,590.5 L588.9,600.0 L590.5,614.4 L592.4,633.5 L594.4,627.6 L596.5,627.6 L598.4,638.3 L600.1,657.5 L602.0,667.0 L603.9,652.7 L605.6,633.5 L607.3,609.6 L609.2,585.7 L616.5,522.0 L623.5,583.3 L625.5,604.8 L627.1,614.4 L629.5,614.4 L631.2,624.0 L633.1,643.1 L635.0,662.2 L636.7,686.2 L637.9,688.1 L639.1,681.4 L640.8,662.2 L642.7,633.5 L644.6,609.6 L646.3,590.5 L655.5,518.0 L664.2,582.0 L665.4,590.5 L667.3,609.6 L669.0,633.5 L670.9,657.5 L672.6,676.6 L673.6,683.8 L676.0,671.8 L678.4,643.1 L680.0,619.2 L682.0,595.3 L691.5,520.0 L701.1,583.3 L703.0,600.0 L704.7,624.0 L706.4,645.5 L707.8,664.6 L709.5,665.8 L711.9,659.9 L713.5,640.7 L715.5,616.8 L716.9,595.3 L718.3,579.0 L721.2,587.5 L724.5,579.0 L731.5,528.0 L738.2,583.3 L739.4,602.4 L741.1,628.8 L743.0,655.1 L744.9,668.2 L747.0,670.6 L748.9,662.2 L750.9,643.1 L752.5,616.8 L754.2,612.0 L756.1,604.8 L757.3,592.9 L765.5,525.0 L774.1,583.3 L775.3,604.8 L777.2,624.0 L778.9,638.3 L780.5,647.9 L782.4,657.5 L784.1,665.8 L786.0,652.7 L787.2,643.1 L788.9,635.9 L790.8,634.7 L792.5,640.7 L793.9,624.0 L795.6,602.4 L797.3,585.7 L804.0,525.0 L811.1,583.3 L813.3,606.5 L815.8,623.1 L818.3,640.5 L819.9,633.0 L822.4,624.7 L824.9,634.7 L827.4,648.8 L829.0,629.7 L830.7,609.8 L832.4,593.2 L833.2,583.2 L838.5,530.0 L844.0,583.2 L846.5,606.5 L849.8,623.1 L852.8,640.5 L854.8,634.7 L857.3,636.4 L859.8,651.3 L861.8,662.9 L863.9,643.0 L865.6,623.1 L867.2,604.8 L868.9,583.2 L875.5,525.0 L882.2,583.2 L883.8,593.2 L885.5,609.8 L888.0,615.6 L890.5,617.3 L892.1,623.1 L893.8,639.7 L895.5,662.9 L896.6,671.2 L898.3,659.6 L899.9,639.7 L901.6,619.8 L903.3,601.5 L904.9,583.2 L912.5,520.0 L920.4,583.2 L922.8,594.9 L926.2,603.2 L928.2,623.1 L930.3,646.3 L932.0,672.9 L933.1,680.4 L934.8,666.2 L937.0,648.0 L939.1,629.7 L940.8,613.1 L942.0,601.5 L943.1,583.2 L951.5,520.0 L960.2,583.2 L961.9,603.2 L963.5,629.7 L964.8,659.6 L966.8,662.9 L968.4,664.3" fill="none" stroke="#0000ff" stroke-width="3.6" stroke-linejoin="round" stroke-linecap="round"/>
<path d="M102.4,608.1 L103.2,608.0 L103.9,605.2 L104.9,602.3 L105.9,602.2 L106.8,599.5 L107.8,599.3 L108.5,596.6 L109.3,595.4 L110.0,596.1 L110.7,593.9 L111.5,597.2 L112.2,598.3 L113.0,599.6 L113.7,602.2 L114.4,599.2 L115.1,598.3 L115.8,596.3 L116.6,597.3 L117.3,599.6 L118.1,600.3 L118.8,601.0 L119.5,603.2 L120.2,602.0 L121.0,599.3 L122.0,595.8 L122.9,595.4 L123.7,595.1 L124.4,596.4 L125.2,597.3 L125.9,601.3 L126.6,600.8 L127.3,603.2 L128.3,603.2 L129.3,601.3 L130.3,600.2 L131.3,601.3 L132.2,601.5 L133.2,603.2 L134.2,602.1 L135.2,604.2 L136.1,606.0 L137.1,606.1 L138.1,606.7 L139.1,605.2 L140.8,602.7 L142.5,602.0 L144.2,601.6 L145.9,599.3 L147.4,599.1 L148.8,601.3 L149.6,604.4 L150.3,606.1 L150.8,608.3 L151.3,607.6 L152.2,604.7 L153.2,599.3 L154.4,596.5 L155.7,595.9 L157.1,595.3 L158.5,596.0 L159.8,593.7 L161.0,594.4 L162.0,601.7 L163.0,606.1 L163.9,605.0 L164.9,606.1 L165.9,607.6 L166.9,607.1 L167.7,604.1 L168.4,603.2 L169.4,600.0 L170.3,599.3 L171.3,600.0 L172.3,602.2 L173.2,599.2 L174.2,599.3 L175.6,598.8 L177.1,596.4 L178.3,596.4 L179.6,593.4 L180.6,599.7 L181.5,603.2 L182.5,603.0 L183.5,605.2 L184.4,603.7 L185.4,599.3 L186.2,597.3 L186.9,597.3 L187.7,599.9 L188.4,604.2 L189.1,606.9 L189.8,606.6 L190.8,605.3 L191.8,602.2 L192.8,598.8 L193.8,597.3 L194.4,599.5 L195.0,599.8 L196.8,598.0 L198.5,598.6 L199.9,600.2 L201.4,598.6 L202.9,599.0 L204.4,602.1 L205.6,600.5 L206.7,602.1 L208.1,601.0 L209.6,598.6 L211.1,598.9 L212.6,596.3 L214.3,597.6 L216.1,596.3 L217.2,596.2 L218.4,597.4 L219.6,598.3 L220.8,602.1 L221.9,602.9 L223.1,600.9 L224.3,597.6 L225.5,597.4 L227.2,597.4 L229.0,599.8 L230.8,601.7 L232.5,602.1 L234.2,601.9 L236.0,599.8 L237.8,597.8 L239.5,598.6 L241.2,602.5 L243.0,605.0 L244.8,602.6 L246.6,603.3 L248.3,604.3 L250.1,602.1 L251.8,602.0 L253.6,599.8 L255.4,599.7 L257.1,597.4 L258.3,600.8 L259.5,605.6 L260.6,602.0 L261.8,600.9 L263.6,601.8 L265.3,599.8 L266.2,597.4 L267.1,596.3 L268.6,600.9 L270.0,603.3 L271.4,605.4 L272.9,606.2 L274.4,604.3 L275.9,599.8 L277.6,599.0 L279.4,600.9 L281.4,602.7 L283.5,602.1 L284.9,604.1 L286.4,603.3 L287.6,605.8 L288.8,605.6 L290.6,602.5 L292.3,596.3 L293.8,601.0 L295.2,603.3 L296.6,599.9 L298.1,598.6 L299.9,598.9 L301.6,597.4 L303.6,600.2 L305.7,600.9 L307.9,603.0 L310.0,603.3 L312.6,605.8 L315.3,605.6 L317.1,604.8 L318.8,602.1 L320.9,598.3 L322.9,597.4 L324.9,597.8 L327.0,595.1 L327.9,599.7 L328.8,602.1 L330.6,600.7 L332.3,600.9 L334.4,604.8 L336.4,605.6 L338.4,604.7 L340.5,602.1 L342.2,599.0 L344.0,598.6 L345.8,598.2 L347.5,596.3 L349.2,597.8 L351.0,597.4 L352.8,598.7 L354.5,597.4 L356.2,597.8 L358.0,599.8 L360.4,598.7 L362.7,595.1 L364.5,597.8 L366.3,602.1 L369.2,602.9 L372.1,606.2 L374.8,604.3 L377.4,605.6 L379.4,603.7 L381.5,603.3 L383.9,603.2 L386.2,604.5 L388.5,601.1 L390.9,599.8 L393.2,598.2 L395.5,598.6 L397.3,604.0 L399.1,607.4 L400.9,602.4 L402.6,599.8 L405.0,597.3 L407.3,597.4 L409.6,599.2 L412.0,599.8 L413.8,599.6 L415.5,596.3 L416.6,596.6 L417.8,593.9 L419.6,600.2 L421.3,603.3 L423.1,605.7 L425.0,606.8 L426.4,605.4 L427.9,600.9 L429.6,603.7 L431.4,603.3 L433.4,602.9 L435.5,604.5 L437.3,603.8 L439.1,600.9 L440.9,600.9 L442.6,603.3 L444.4,604.3 L446.1,602.1 L448.1,599.1 L450.2,598.6 L452.2,600.6 L454.3,599.8 L456.4,602.6 L458.4,607.4 L460.1,605.3 L461.9,600.9 L463.6,596.5 L465.4,593.9 L466.9,599.6 L468.4,603.3 L470.1,602.5 L471.9,603.9 L473.6,602.2 L475.4,597.4 L477.1,603.4 L478.9,607.4 L480.6,602.4 L482.4,599.8 L483.9,598.8 L485.4,595.1 L486.9,600.9 L488.3,604.5 L490.1,602.2 L491.8,598.6 L493.9,598.5 L495.9,596.3 L497.6,600.5 L499.4,603.3 L500.9,603.7 L502.3,605.6 L504.1,602.9 L505.9,598.6 L507.6,597.8 L509.4,599.8 L511.1,598.7 L512.9,596.3 L514.6,601.8 L516.4,605.6 L518.1,604.6 L519.9,600.9 L521.6,598.7 L523.4,598.6 L525.2,596.1 L527.0,596.3 L528.8,598.3 L530.5,598.6 L532.2,603.2 L534.0,605.6 L535.8,605.6 L537.5,606.8 L538.8,605.9 L540.0,606.8 L541.5,603.9 L542.9,598.6 L544.6,599.9 L546.4,603.3 L548.5,606.3 L550.5,606.8 L552.3,603.2 L554.1,600.9 L556.2,603.3 L558.2,603.3 L560.0,601.8 L561.7,603.3 L563.5,600.3 L565.2,598.6 L566.7,603.3 L568.1,605.6 L569.9,604.7 L571.6,600.9 L573.1,599.7 L574.6,596.3 L576.4,596.6 L578.1,599.8 L579.9,598.3 L581.6,593.9 L583.4,597.7 L585.1,603.3 L587.2,600.8 L589.2,600.9 L591.2,602.7 L593.3,602.1 L595.3,605.4 L597.4,605.6 L599.1,600.7 L600.9,597.4 L602.7,601.9 L604.5,603.3 L606.2,600.5 L608.0,599.8 L610.0,600.3 L612.1,602.1 L613.9,603.0 L615.6,605.6 L617.7,600.1 L619.7,597.4 L621.5,597.1 L623.2,598.6 L625.2,600.8 L627.3,599.8 L629.3,602.9 L631.4,603.3 L633.5,601.4 L635.5,600.9 L637.5,599.5 L639.6,599.8 L641.4,600.2 L643.1,603.3 L644.9,602.0 L646.6,603.9 L648.4,604.0 L650.2,602.7 L652.0,603.7 L653.7,606.8 L655.5,603.5 L657.3,601.6 L658.5,601.6 L659.7,602.8 L660.9,599.8 L662.0,599.3 L663.2,596.1 L664.4,594.6 L665.5,596.2 L666.7,600.5 L668.5,600.4 L670.2,601.6 L672.0,598.4 L673.8,597.0 L675.2,599.8 L676.7,600.5 L678.2,603.2 L679.6,602.8 L681.4,602.1 L683.1,604.0 L684.6,601.6 L686.1,601.6 L688.2,605.5 L690.2,606.3 L692.2,601.3 L694.3,598.1 L695.8,599.0 L697.2,601.6 L698.4,605.1 L699.5,606.3 L701.2,602.5 L703.0,601.6 L704.8,602.7 L706.6,601.6 L709.0,603.6 L711.3,604.0 L713.6,601.5 L716.0,601.6 L717.5,598.7 L718.9,598.1 L720.6,600.4 L722.4,604.0 L724.5,604.6 L726.5,607.5 L728.2,606.0 L730.0,602.8 L732.4,604.5 L734.7,604.0 L736.5,603.5 L738.2,601.6 L740.0,599.9 L741.7,600.5 L743.5,602.9 L745.2,604.0 L747.0,600.7 L748.8,600.5 L750.5,600.6 L752.3,598.1 L754.0,600.3 L755.8,605.2 L757.5,601.8 L759.3,601.6 L761.0,603.6 L762.8,602.8 L764.5,602.7 L766.3,605.2 L768.0,604.4 L769.8,601.6 L772.2,603.1 L774.7,606.3 L777.0,602.4 L779.4,595.8 L781.8,598.3 L784.1,599.3 L786.7,601.7 L789.3,601.6 L791.3,602.6 L793.4,600.5 L795.8,602.8 L798.1,602.8 L801.0,603.2 L804.0,606.3 L806.9,604.6 L809.8,601.6 L812.5,597.5 L815.1,594.6 L817.2,597.9 L819.2,602.8 L821.0,603.7 L822.7,601.6 L824.2,600.0 L825.7,595.8 L826.9,601.7 L828.0,606.3 L830.0,606.1 L832.1,604.0 L833.9,601.4 L835.6,597.0 L838.0,600.0 L840.3,601.6 L842.6,599.2 L845.0,599.3 L847.4,597.2 L849.7,597.0 L852.0,602.0 L854.4,604.0 L856.8,601.8 L859.1,598.1 L861.5,601.2 L863.8,602.8 L866.1,599.7 L868.4,599.3 L870.8,599.3 L873.1,600.5 L875.5,597.8 L877.8,597.0 L878.9,599.1 L880.0,599.3 L881.4,598.5 L882.8,600.3 L884.2,600.4 L885.6,598.4 L887.5,597.2 L889.3,597.5 L891.1,601.6 L893.0,604.0 L894.9,602.2 L896.7,603.0 L898.5,603.3 L900.4,604.9 L902.2,600.5 L904.1,598.4 L906.0,600.0 L907.8,604.0 L909.6,603.4 L911.5,600.3 L913.4,598.3 L915.3,598.4 L917.1,600.0 L919.0,600.3 L920.9,601.1 L922.7,600.3 L924.5,601.8 L926.4,604.9 L928.2,602.4 L930.1,603.0 L932.0,603.0 L933.8,600.3 L935.6,602.3 L937.5,603.0 L939.4,602.4 L941.2,604.0 L943.0,602.9 L944.9,600.3 L946.8,597.8 L948.6,597.5 L950.5,600.9 L952.4,601.2 L953.8,603.6 L955.1,607.7 L956.5,606.0 L957.9,603.0 L959.3,599.5 L960.7,594.7 L962.1,597.2 L963.5,602.1 L964.9,604.5 L966.3,604.9 L967.5,605.2 L968.6,606.7" fill="none" stroke="#ff0000" stroke-width="3.7" stroke-linejoin="round" stroke-linecap="round"/>
<path d="M102.9,600.3 L104.4,599.3 L105.4,609.1 L106.8,615.9 L108.3,616.9 L109.8,606.1 L111.2,596.4 L112.7,595.4 L114.2,590.5 L115.6,591.5 L117.1,603.2 L118.6,614.9 L120.0,618.8 L120.7,599.3 L121.5,588.6 L123.0,587.6 L124.2,577.8 L125.6,573.9 L126.6,579.8 L127.8,589.5 L129.3,594.4 L130.8,589.5 L132.7,584.6 L134.2,583.2 L135.6,587.6 L137.1,595.4 L138.6,582.2 L139.8,584.6 L141.0,611.0 L142.5,584.6 L143.9,591.5 L145.1,601.3 L146.4,598.3 L147.9,593.4 L149.8,596.4 L151.8,590.5 L153.2,609.1 L154.7,617.9 L156.2,604.2 L157.6,599.3 L159.1,589.5 L160.5,575.9 L162.5,572.9 L164.0,582.7 L165.4,589.5 L166.9,600.3 L168.4,594.4 L169.8,589.5 L171.3,599.3 L172.8,603.7 L174.2,594.4 L175.7,589.0 L177.1,599.3 L178.6,607.1 L180.1,605.2 L181.5,594.4 L183.0,587.6 L184.5,588.6 L185.9,596.4 L187.4,591.5 L188.9,589.5 L190.3,595.4 L192.3,609.1 L193.8,602.2 L195.2,587.6 L196.2,586.9 L197.9,599.8 L200.9,605.6 L203.8,610.3 L206.1,583.4 L207.9,595.1 L209.6,612.7 L212.0,598.6 L214.3,620.9 L216.7,556.4 L218.4,581.0 L220.2,590.4 L222.5,586.9 L225.2,571.6 L227.2,583.4 L229.6,605.6 L231.9,584.5 L234.3,616.2 L236.0,598.6 L237.8,590.4 L239.5,591.6 L241.9,593.9 L244.8,584.0 L247.2,606.8 L248.9,585.7 L251.3,604.5 L253.6,578.7 L255.4,570.5 L257.1,577.5 L259.5,583.4 L262.4,588.0 L265.9,576.3 L268.2,586.9 L270.6,603.3 L272.9,583.4 L275.9,596.3 L278.8,603.3 L281.7,585.7 L284.7,586.9 L287.0,598.6 L289.9,579.8 L292.9,586.9 L295.8,584.5 L298.7,609.1 L301.1,584.5 L303.4,564.6 L305.7,610.3 L307.5,579.8 L310.0,589.2 L312.3,603.3 L315.3,581.0 L318.8,576.3 L321.1,597.4 L323.5,588.0 L325.2,599.8 L327.6,597.4 L331.1,607.4 L334.0,588.0 L337.0,598.6 L339.9,603.3 L341.9,547.6 L343.4,589.2 L345.7,591.6 L348.7,578.7 L351.0,606.8 L353.9,586.9 L357.5,600.9 L361.6,584.5 L364.1,574.0 L366.8,592.7 L369.8,597.4 L372.1,586.9 L375.0,596.3 L378.0,598.6 L380.9,600.9 L383.2,571.6 L386.2,590.4 L389.1,581.0 L392.0,573.4 L394.4,615.0 L396.7,582.2 L399.7,589.2 L402.6,599.8 L405.5,586.9 L409.0,592.7 L413.1,585.7 L415.5,596.3 L417.8,626.7 L420.2,600.9 L422.5,576.3 L424.3,604.5 L425.0,591.6 L426.8,590.4 L428.5,595.1 L430.9,593.9 L433.2,612.7 L436.1,595.7 L439.6,613.8 L442.6,600.9 L446.1,574.0 L448.4,616.2 L450.8,595.1 L454.9,586.9 L457.8,593.9 L460.2,598.6 L463.7,609.1 L467.2,605.6 L470.1,567.5 L472.5,586.9 L474.8,585.1 L477.7,589.2 L480.1,588.0 L482.4,591.6 L485.4,578.1 L488.3,579.8 L490.6,598.6 L494.1,619.7 L497.1,598.6 L500.0,600.9 L502.3,606.8 L505.3,577.5 L507.0,586.9 L509.1,629.1 L511.7,599.8 L514.1,600.9 L517.0,590.4 L519.9,588.0 L522.3,581.0 L524.0,591.6 L526.0,568.1 L528.1,597.4 L530.5,612.7 L532.8,598.6 L535.7,578.7 L537.5,611.5 L540.0,589.2 L543.5,571.1 L545.3,584.5 L547.6,613.8 L550.0,589.2 L552.3,583.4 L554.6,596.3 L557.0,608.0 L559.3,595.1 L561.1,605.6 L563.4,571.1 L566.4,592.7 L569.9,588.0 L573.4,584.5 L575.7,592.7 L578.1,584.5 L580.4,615.0 L582.8,595.1 L585.1,608.0 L588.0,586.9 L591.6,575.2 L593.9,596.3 L596.3,589.2 L599.2,596.3 L602.1,584.5 L605.6,589.2 L608.0,593.9 L610.9,619.7 L613.2,600.9 L616.2,589.2 L619.1,595.1 L622.0,584.5 L625.5,593.9 L628.5,604.5 L630.8,591.6 L633.8,591.6 L636.1,583.4 L639.0,576.0 L642.0,584.5 L645.5,602.1 L648.4,585.7 L652.5,591.6 L655.0,588.8 L657.3,587.6 L659.7,592.3 L662.0,584.1 L664.4,587.6 L666.7,592.3 L669.1,606.3 L671.4,599.3 L673.5,608.7 L675.5,597.0 L677.3,591.1 L679.0,605.2 L680.8,578.0 L682.5,593.4 L684.3,620.4 L686.6,605.2 L689.6,578.0 L691.9,599.3 L694.8,578.0 L697.2,592.3 L700.1,587.6 L701.9,594.6 L704.2,612.2 L706.6,599.3 L708.3,594.6 L710.7,612.2 L713.6,595.8 L715.9,582.0 L718.9,582.0 L721.2,597.0 L723.0,604.0 L725.3,594.6 L728.2,595.8 L731.2,598.1 L733.5,597.0 L736.4,604.0 L738.2,588.8 L740.6,578.0 L744.1,599.3 L747.6,595.8 L751.1,594.6 L754.0,592.3 L755.2,578.0 L757.0,599.3 L758.7,593.4 L761.1,600.5 L763.4,578.0 L765.7,609.8 L768.1,589.9 L770.0,593.4 L771.8,601.6 L774.1,580.0 L776.4,604.0 L779.4,615.7 L781.7,593.4 L784.1,589.9 L786.4,614.5 L788.8,589.9 L791.7,589.9 L794.6,606.3 L797.5,599.3 L799.9,582.0 L802.8,604.0 L805.2,582.0 L807.5,578.0 L809.8,598.1 L812.2,578.0 L815.1,605.2 L818.0,582.0 L820.4,578.0 L823.3,598.1 L826.3,578.0 L829.2,595.8 L832.1,600.5 L835.0,593.4 L838.0,580.0 L840.9,599.3 L843.8,591.1 L846.8,609.8 L849.7,591.1 L852.0,580.0 L854.4,599.3 L857.3,578.0 L860.2,593.4 L863.2,589.9 L866.1,609.8 L868.4,593.4 L871.4,582.0 L874.3,621.6 L876.6,593.4 L879.6,587.6 L881.9,604.0 L884.2,609.5 L886.5,611.4 L889.3,582.0 L892.1,592.8 L894.8,601.2 L897.2,582.0 L899.5,588.2 L901.8,594.7 L904.1,582.0 L906.9,595.6 L908.8,602.1 L910.6,582.0 L913.4,593.8 L916.2,582.0 L919.0,580.0 L921.7,590.0 L924.5,592.8 L926.8,602.1 L928.2,582.0 L930.6,602.1 L932.9,582.0 L935.2,614.2 L937.5,604.0 L940.3,582.0 L942.2,592.8 L944.5,618.8 L946.3,582.0 L949.1,578.0 L951.9,590.0 L954.2,582.0 L956.5,587.3 L958.8,605.8 L960.7,604.0 L962.6,600.3 L964.9,592.8 L966.3,572.4 L968.1,600.3" fill="none" stroke="#00ff00" stroke-width="3.6" stroke-linejoin="round" stroke-linecap="round"/>
<rect x="592.80" y="461.70" width="370.70" height="120.40" fill="#fff" stroke="#999" stroke-width="1.3"/>
<line x1="599.3" y1="483.1" x2="632.7" y2="483.1" stroke="#0000ff" stroke-width="3.9"/>
<line x1="599.3" y1="522.0" x2="632.7" y2="522.0" stroke="#ff0000" stroke-width="3.9"/>
<line x1="599.3" y1="560.6" x2="632.7" y2="560.6" stroke="#00ff00" stroke-width="3.9"/>
<g transform="translate(49.91,32.98) scale(0.9580,1.0506)"><text x="0" y="0" font-family='"Liberation Sans", sans-serif' font-size="34" >25.5</text></g>
<g transform="translate(76.97,180.98) scale(0.9580,1.0506)"><text x="0" y="0" font-family='"Liberation Sans", sans-serif' font-size="34" >25</text></g>
<g transform="translate(50.01,329.68) scale(0.9580,1.0506)"><text x="0" y="0" font-family='"Liberation Sans", sans-serif' font-size="34" >24.5</text></g>
<g transform="translate(108.05,350.53) scale(0.9580,1.0506)"><text x="0" y="0" font-family='"Liberation Sans", sans-serif' font-size="34" >0</text></g>
<g transform="translate(397.12,350.88) scale(0.9580,1.0506)"><text x="0" y="0" font-family='"Liberation Sans", sans-serif' font-size="34" >5</text></g>
<g transform="translate(678.64,350.48) scale(0.9580,1.0506)"><text x="0" y="0" font-family='"Liberation Sans", sans-serif' font-size="34" >10</text></g>
<g transform="translate(968.69,350.58) scale(0.9580,1.0506)"><text x="0" y="0" font-family='"Liberation Sans", sans-serif' font-size="34" >15</text></g>
<g transform="translate(487.35,376.76) scale(1.0227,0.9937)"><text x="0" y="0" font-family='"Liberation Sans", sans-serif' font-size="26" >Time(5ms)</text></g>
<g transform="translate(913.90,398.12) scale(1.0000,1.0139)"><text x="0" y="0" font-family='"Liberation Sans", sans-serif' font-size="34" >x</text></g>
<g transform="translate(938.54,398.28) scale(0.9580,1.0506)"><text x="0" y="0" font-family='"Liberation Sans", sans-serif' font-size="34" >10</text></g>
<g transform="translate(974.19,374.62) scale(1.0850,1.0107)"><text x="0" y="0" font-family='"Liberation Sans", sans-serif' font-size="21" >5</text></g>
<g transform="translate(492.01,429.91) scale(1.0348,1.0437)"><text x="0" y="0" font-family='"Liberation Serif", serif' font-size="29">(<tspan font-weight="bold">a</tspan>)</text></g>
<g transform="translate(39.76,222.68) scale(1.0438,1.0270)"><text transform="rotate(-90)" x="0" y="0" font-family='"Liberation Sans", sans-serif' font-size="26">Gyro(<tspan dx="9.3">/s)</tspan></text></g>
<g transform="translate(651.79,59.39) scale(1.0099,1.0178)"><text x="0" y="0" font-family='"Liberation Sans", sans-serif' font-size="32" >FOG noisy signal</text></g>
<g transform="translate(652.97,99.29) scale(1.0099,1.0178)"><text x="0" y="0" font-family='"Liberation Sans", sans-serif' font-size="32" >SHAKF denoise signal</text></g>
<g transform="translate(651.99,138.79) scale(1.0099,1.0178)"><text x="0" y="0" font-family='"Liberation Sans", sans-serif' font-size="32" >KF denoise signal</text></g>
<g transform="translate(634.64,494.09) scale(1.0099,1.0178)"><text x="0" y="0" font-family='"Liberation Sans", sans-serif' font-size="32" >FOG noisy signal</text></g>
<g transform="translate(635.37,534.04) scale(1.0099,1.0178)"><text x="0" y="0" font-family='"Liberation Sans", sans-serif' font-size="32" >SHAKF denoise signal</text></g>
<g transform="translate(634.74,573.24) scale(1.0099,1.0178)"><text x="0" y="0" font-family='"Liberation Sans", sans-serif' font-size="32" >KF denoise signal</text></g>
<g transform="translate(35.16,467.53) scale(0.9580,1.0506)"><text x="0" y="0" font-family='"Liberation Sans", sans-serif' font-size="34" >25.5</text></g>
<g transform="translate(62.42,615.03) scale(0.9580,1.0506)"><text x="0" y="0" font-family='"Liberation Sans", sans-serif' font-size="34" >25</text></g>
<g transform="translate(35.31,763.38) scale(0.9580,1.0506)"><text x="0" y="0" font-family='"Liberation Sans", sans-serif' font-size="34" >24.5</text></g>
<g transform="translate(80.43,784.23) scale(0.9580,1.0506)"><text x="0" y="0" font-family='"Liberation Sans", sans-serif' font-size="34" >1.4</text></g>
<g transform="translate(268.30,784.08) scale(0.9580,1.0506)"><text x="0" y="0" font-family='"Liberation Sans", sans-serif' font-size="34" >1.4001</text></g>
<g transform="translate(486.30,783.98) scale(0.9580,1.0506)"><text x="0" y="0" font-family='"Liberation Sans", sans-serif' font-size="34" >1.4002</text></g>
<g transform="translate(703.15,783.98) scale(0.9580,1.0506)"><text x="0" y="0" font-family='"Liberation Sans", sans-serif' font-size="34" >1.4003</text></g>
<g transform="translate(918.57,784.28) scale(0.9580,1.0506)"><text x="0" y="0" font-family='"Liberation Sans", sans-serif' font-size="34" >1.4004</text></g>
<g transform="translate(471.00,810.61) scale(1.0227,0.9937)"><text x="0" y="0" font-family='"Liberation Sans", sans-serif' font-size="26" >Time(5ms)</text></g>
<g transform="translate(896.10,831.98) scale(1.0000,1.0139)"><text x="0" y="0" font-family='"Liberation Sans", sans-serif' font-size="34" >x</text></g>
<g transform="translate(919.74,832.18) scale(0.9580,1.0506)"><text x="0" y="0" font-family='"Liberation Sans", sans-serif' font-size="34" >10</text></g>
<g transform="translate(955.74,809.58) scale(1.0850,1.0107)"><text x="0" y="0" font-family='"Liberation Sans", sans-serif' font-size="21" >6</text></g>
<g transform="translate(491.64,864.98) scale(1.0348,1.0437)"><text x="0" y="0" font-family='"Liberation Serif", serif' font-size="29">(<tspan font-weight="bold">b</tspan>)</text></g>
<g transform="translate(25.41,657.08) scale(1.0438,1.0270)"><text transform="rotate(-90)" x="0" y="0" font-family='"Liberation Sans", sans-serif' font-size="26">Gyro(<tspan dx="9.3">/s)</tspan></text></g>
<circle cx="23.9" cy="152.5" r="3.1" fill="none" stroke="#000" stroke-width="1.15"/>
<circle cx="9.94" cy="586.9" r="3.1" fill="none" stroke="#000" stroke-width="1.15"/>
</svg>
</body></html>
